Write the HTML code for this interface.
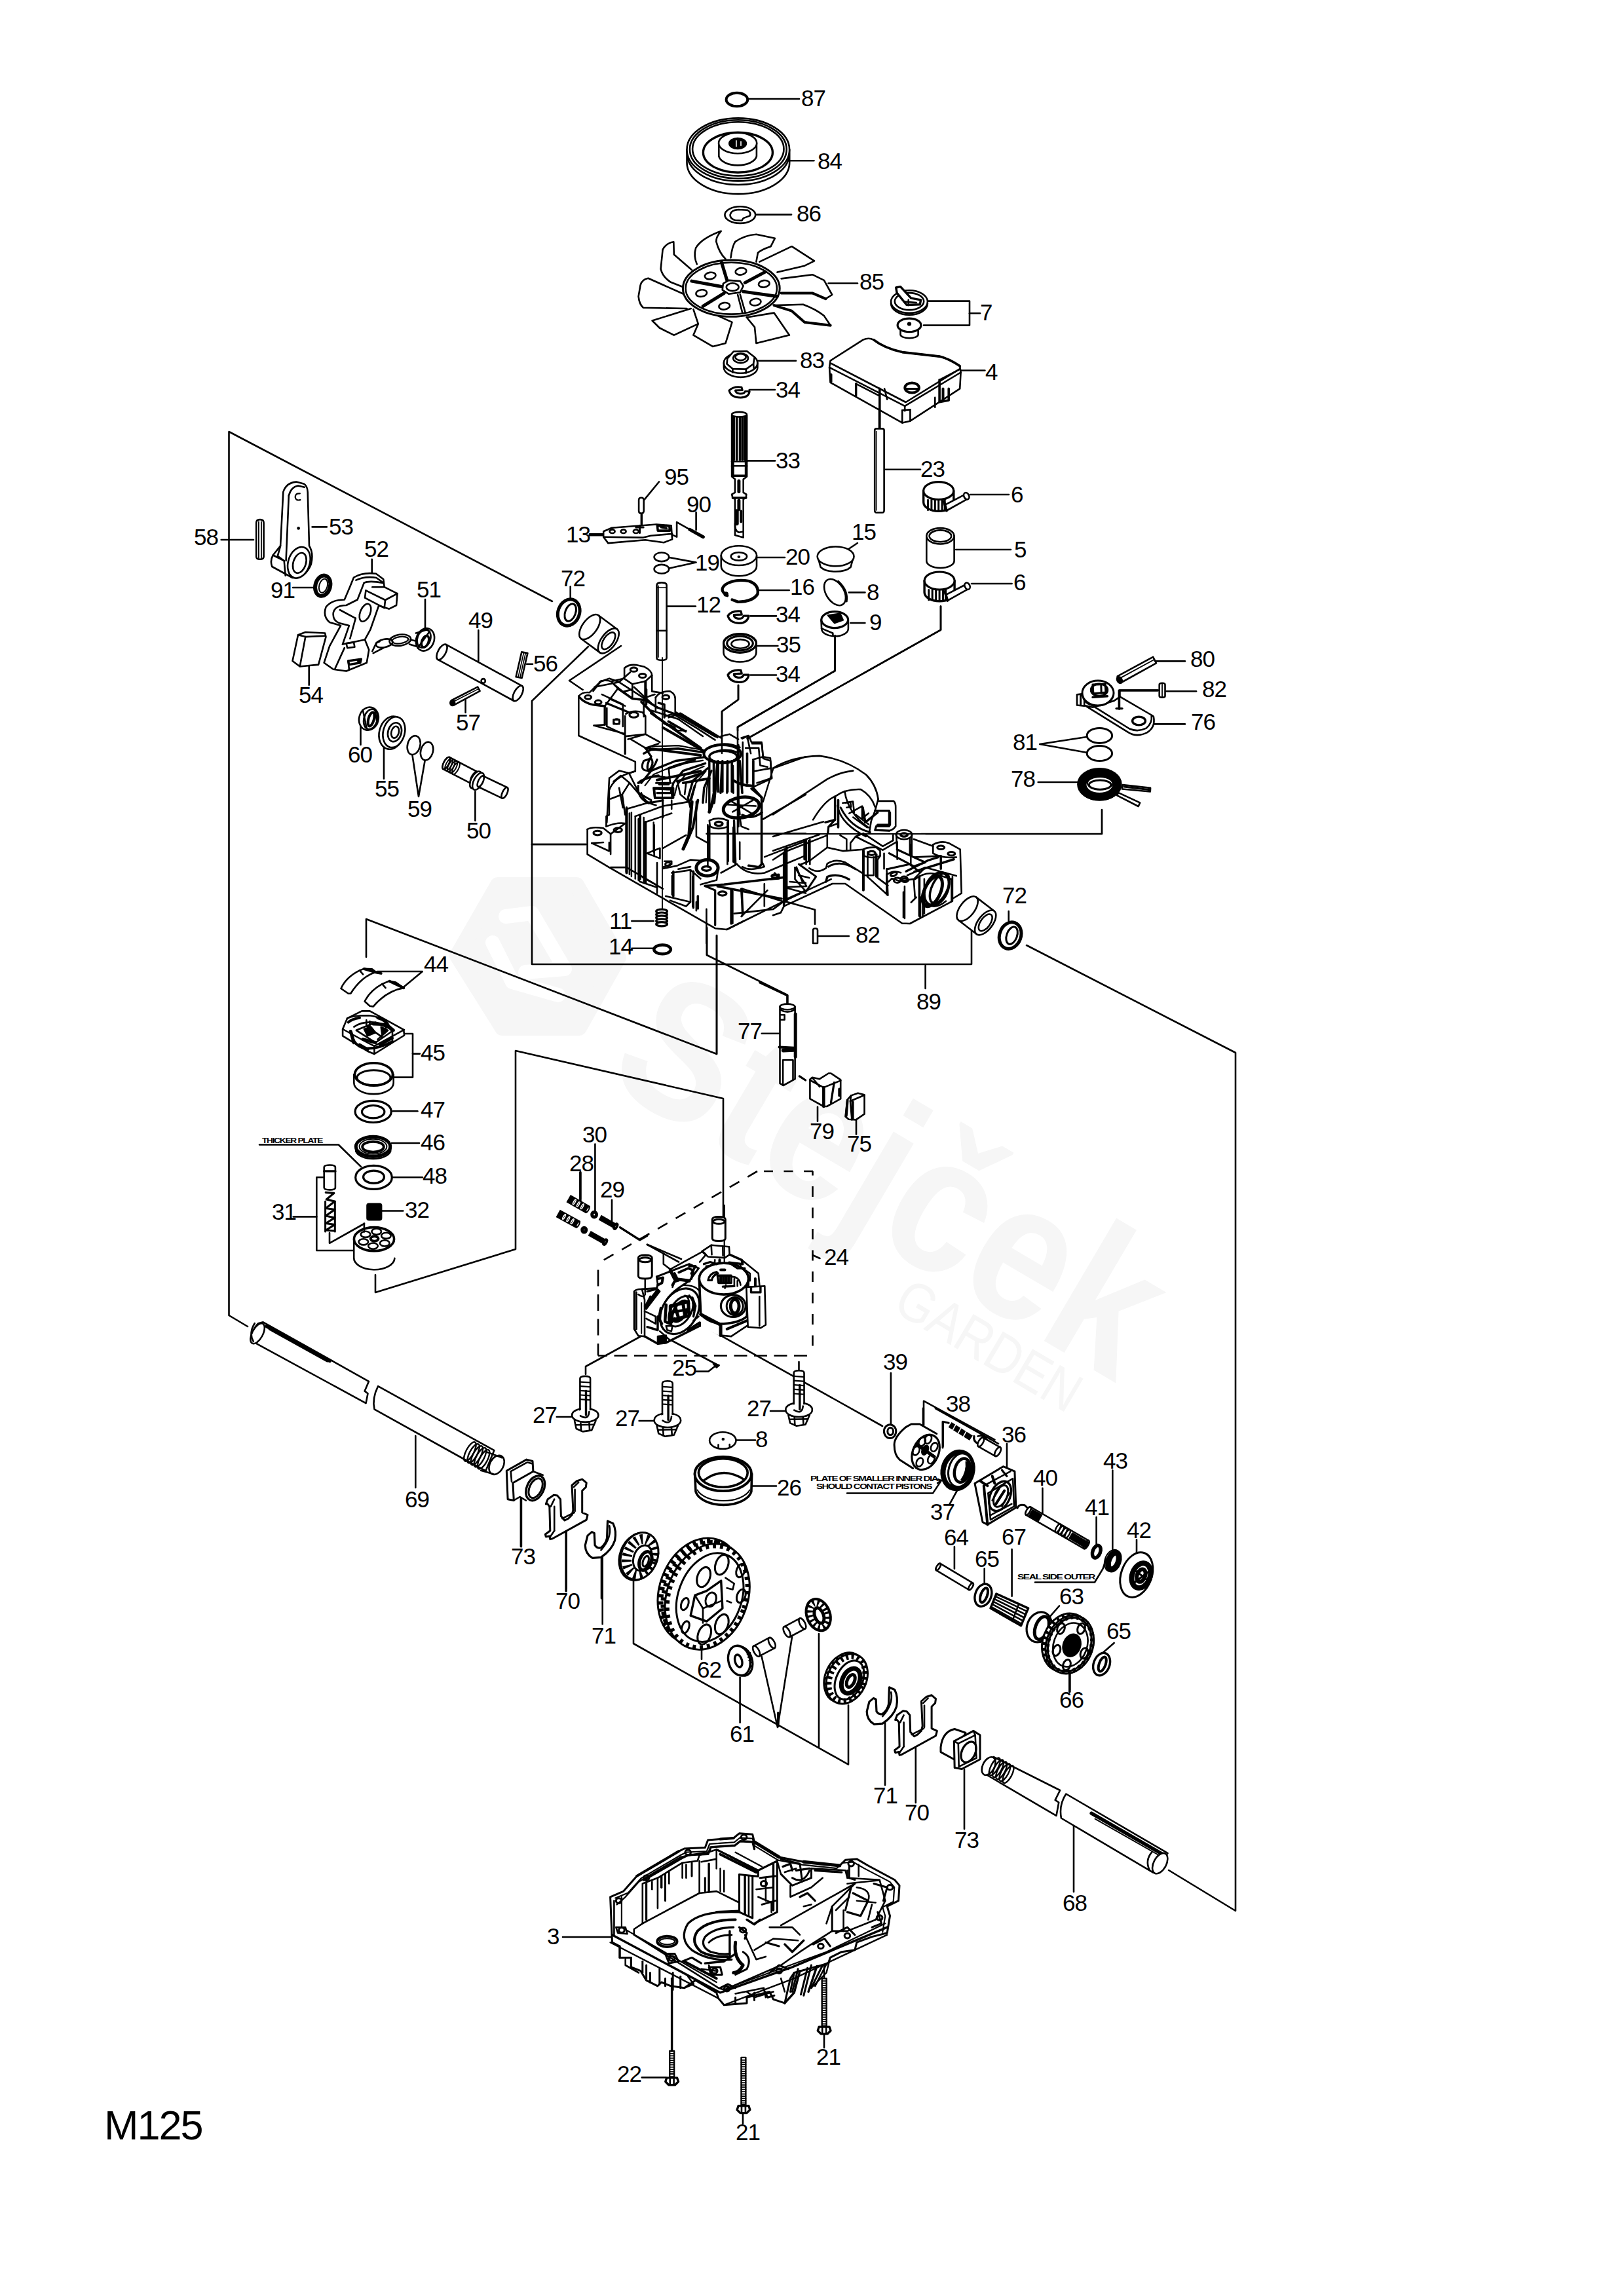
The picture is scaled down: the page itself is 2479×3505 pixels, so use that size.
<!DOCTYPE html>
<html><head><meta charset="utf-8"><title>M125</title>
<style>
html,body{margin:0;padding:0;background:#fff}
body{width:2479px;height:3505px;overflow:hidden}
svg{display:block}
svg *{vector-effect:none}
.d{fill:none;stroke:#000;stroke-width:2.6;stroke-linecap:round;stroke-linejoin:round}
.d text{fill:#000;stroke:none;font-family:"Liberation Sans",sans-serif;font-size:35px;letter-spacing:-1px}
</style></head><body>
<svg width="2479" height="3505" viewBox="0 0 2479 3505">
<rect width="2479" height="3505" fill="#fff"/>
<g class="d">
<g transform="translate(920,1650) rotate(30.5) scale(0.87,1)"><text x="0" y="0" style="font-size:300px;font-weight:bold;fill:#f6f6f6">Stejček</text><text x="640" y="78" style="font-size:85px;fill:#f6f6f6">GARDEN</text></g>
<g transform="translate(822,1459)"><path d="M-62 -108 L58 -108 L122 3 L62 110 L-55 110 L-124 0 Z" style="fill:#f6f6f6;stroke:#f6f6f6;stroke-width:24;stroke-linejoin:round"/><path d="M-50 -60 L-10 -65 L40 20 L-20 25 M-70 -20 L-40 40 L30 60" style="fill:none;stroke:#fff;stroke-width:22;stroke-linecap:round;stroke-linejoin:round"/></g>
<polyline points="843,918 349.5,659 349.5,2008 378,2025"/>
<polyline points="898,987 812,1070 812,1472 1483,1472 1483,1421"/>
<line x1="812" y1="1289" x2="895" y2="1289"/>
<polyline points="948,986 869,1039 891,1054"/>
<line x1="1412.6" y1="1474" x2="1412.6" y2="1509"/>
<polyline points="1567,1443 1886,1607 1886,2917 1784,2855"/>
<polyline points="559,1461 559,1403 1094,1609 1094,1428"/>
<polyline points="573,1946 573,1973 787,1907 787,1604 1104,1677 1104,1860"/>
<polyline points="1081,1273 1682,1273 1682,1236"/>
<polyline points="1079,1416 1079,1458 1202,1519 1202,1534"/>
<line x1="1011" y1="1004" x2="1011" y2="1386" stroke-width="1.8"/>
<polyline points="1127,1046 1127,1068 1102,1086 1102,1145"/>
<polyline points="1274.6,970 1274.6,1024 1126,1110 1126,1273"/>
<polyline points="1436,925.6 1436,961.6 1140.6,1127.6"/>
<line x1="1342" y1="592" x2="1342" y2="654"/>
<polyline points="980,2039 894,2086 894,2098"/>
<line x1="1072" y1="2023" x2="1347" y2="2177"/>
<line x1="1219.5" y1="2079" x2="1219.5" y2="2091"/>
<line x1="1017" y1="2042" x2="1096" y2="2084"/>
<polyline points="967,2413 967,2509 1295,2693.6 1295,2603"/>
<line x1="1250" y1="2494" x2="1250" y2="2667"/>
<polyline points="1162.6,2528.6 1187,2637 1209,2499"/>
<line x1="1129.6" y1="2560.6" x2="1129.6" y2="2629.6"/>
<line x1="1071" y1="2514" x2="1071" y2="2533"/>
<line x1="1141" y1="151" x2="1220" y2="151"/>
<line x1="1205.4" y1="245.3" x2="1242.4" y2="245.3"/>
<line x1="1153.7" y1="327.6" x2="1208" y2="327.6"/>
<line x1="1264.5" y1="432.5" x2="1309" y2="432.5"/>
<polyline points="1417,459.6 1480,459.6 1480,496.6 1410,496.6"/>
<line x1="1480" y1="478.3" x2="1496" y2="478.3"/>
<line x1="1151" y1="550.7" x2="1215" y2="550.7"/>
<line x1="1143.8" y1="595" x2="1183" y2="595"/>
<line x1="1139" y1="703.4" x2="1183" y2="703.4"/>
<line x1="1466.5" y1="565.5" x2="1503.4" y2="565.5"/>
<line x1="1349" y1="716.7" x2="1405" y2="716.7"/>
<line x1="1481" y1="755" x2="1540" y2="755"/>
<line x1="1459" y1="839" x2="1543" y2="839"/>
<line x1="1006" y1="735.5" x2="983.7" y2="762.6"/>
<line x1="1062.6" y1="782" x2="1062.6" y2="809"/>
<polyline points="1021.7,851 1062.6,858.6 1021.7,867.5"/>
<line x1="1156" y1="851" x2="1198" y2="851"/>
<line x1="1308.9" y1="829" x2="1294" y2="839"/>
<line x1="337.7" y1="824" x2="387" y2="824"/>
<line x1="476.6" y1="804.4" x2="498.8" y2="804.4"/>
<line x1="567.7" y1="853.7" x2="567.7" y2="875.9"/>
<line x1="447" y1="897" x2="479" y2="897"/>
<line x1="471.7" y1="1016" x2="471.7" y2="1045.8"/>
<line x1="649" y1="915" x2="649" y2="964.5"/>
<line x1="730.3" y1="962" x2="730.3" y2="1008.9"/>
<line x1="804" y1="1013.8" x2="813" y2="1013.8"/>
<line x1="710.6" y1="1065.5" x2="710.6" y2="1087.7"/>
<line x1="870.7" y1="895.6" x2="870.7" y2="912.8"/>
<line x1="550.5" y1="1107.4" x2="550.5" y2="1137"/>
<line x1="586" y1="1132" x2="586" y2="1188.7"/>
<polyline points="629.3,1151.7 639,1216 649,1159"/>
<line x1="725.4" y1="1208.4" x2="725.4" y2="1252.7"/>
<line x1="900" y1="815.3" x2="922.4" y2="815.3"/>
<line x1="1017.5" y1="925.6" x2="1061.8" y2="925.6"/>
<line x1="1157.9" y1="901" x2="1204.7" y2="901"/>
<line x1="1145.6" y1="940.4" x2="1185" y2="940.4"/>
<line x1="1153" y1="986" x2="1187.4" y2="986"/>
<line x1="1145.6" y1="1030.5" x2="1185" y2="1030.5"/>
<line x1="1295.8" y1="904.4" x2="1320.4" y2="904.4"/>
<line x1="1298.3" y1="951" x2="1320.4" y2="951"/>
<line x1="1483" y1="891" x2="1544.6" y2="891"/>
<line x1="964.3" y1="1406" x2="997.8" y2="1406"/>
<line x1="964.3" y1="1447.8" x2="996.8" y2="1447.8"/>
<line x1="1249" y1="1429" x2="1295.8" y2="1429"/>
<line x1="1539.7" y1="1391" x2="1539.7" y2="1406"/>
<line x1="1162.8" y1="1577.8" x2="1190" y2="1577.8"/>
<line x1="1764.5" y1="1009.4" x2="1808.9" y2="1009.4"/>
<line x1="1780.3" y1="1055.2" x2="1826" y2="1055.2"/>
<polyline points="1771.4,1053.7 1709.4,1053.7 1709.4,1083.3"/>
<line x1="1762" y1="1105.4" x2="1808.9" y2="1105.4"/>
<polyline points="1658.6,1125 1587.2,1136 1658.6,1148.8"/>
<line x1="1584.7" y1="1194" x2="1646.3" y2="1194"/>
<polyline points="575.9,1483 644.8,1483 615.3,1507.6"/>
<polyline points="615.3,1578 630,1578 630,1644.6 600.5,1644.6"/>
<line x1="630" y1="1608.6" x2="640.9" y2="1608.6"/>
<line x1="599.5" y1="1696.3" x2="637.4" y2="1696.3"/>
<line x1="598" y1="1745" x2="639.9" y2="1745"/>
<line x1="599.5" y1="1797.3" x2="644.8" y2="1797.3"/>
<line x1="581.8" y1="1848.5" x2="615.3" y2="1848.5"/>
<line x1="447.8" y1="1857.4" x2="483.3" y2="1857.4"/>
<polyline points="497,1797.3 483.3,1797.3 483.3,1909 538.9,1909"/>
<polyline points="503,1882 503,1897.8 556,1868"/>
<polyline points="396,1747.5 516.7,1747.5 551,1781"/>
<line x1="908.4" y1="1746.6" x2="908.4" y2="1850"/>
<line x1="886" y1="1791" x2="886" y2="1830"/>
<line x1="934" y1="1831.8" x2="934" y2="1867"/>
<line x1="1248" y1="1689.7" x2="1248" y2="1711.8"/>
<line x1="1307" y1="1707" x2="1307" y2="1731.5"/>
<line x1="1240.6" y1="1916" x2="1251.5" y2="1921"/>
<polyline points="1062.8,2093.6 1081.5,2093.6 1093.8,2083.7"/>
<line x1="975.6" y1="2169" x2="997.8" y2="2169"/>
<line x1="1176" y1="2154" x2="1198.8" y2="2154"/>
<line x1="849.8" y1="2163" x2="872" y2="2163"/>
<line x1="1123.4" y1="2198.5" x2="1153" y2="2198.5"/>
<line x1="1148" y1="2268.5" x2="1185" y2="2268.5"/>
<line x1="1359.9" y1="2096" x2="1359.9" y2="2175"/>
<line x1="1537" y1="2204" x2="1537" y2="2239"/>
<line x1="1591.4" y1="2271.7" x2="1591.4" y2="2311"/>
<polyline points="1410,2175.6 1410,2138.7 1518.5,2197.8"/>
<line x1="1439.7" y1="2207.6" x2="1439.7" y2="2170.7"/>
<line x1="1449.5" y1="2296.3" x2="1461.8" y2="2274"/>
<line x1="1698.3" y1="2244.6" x2="1698.3" y2="2370"/>
<line x1="1673.6" y1="2316" x2="1673.6" y2="2357.9"/>
<line x1="1735" y1="2350.5" x2="1735" y2="2370"/>
<line x1="1456.9" y1="2361" x2="1456.9" y2="2394.8"/>
<line x1="1502.7" y1="2394.8" x2="1502.7" y2="2419.5"/>
<line x1="1544.6" y1="2365" x2="1544.6" y2="2436.7"/>
<polyline points="1580,2415.5 1671,2415.5 1683.5,2394.8 1688.4,2380"/>
<line x1="1617" y1="2451.5" x2="1602" y2="2468.7"/>
<line x1="1633" y1="2550" x2="1633" y2="2579.6"/>
<line x1="1700.7" y1="2508" x2="1683.5" y2="2523"/>
<line x1="1351" y1="2626" x2="1351" y2="2725"/>
<line x1="1397.8" y1="2665.8" x2="1397.8" y2="2752"/>
<line x1="1472" y1="2701.6" x2="1472" y2="2792"/>
<line x1="1639" y1="2786.5" x2="1639" y2="2888"/>
<line x1="634.3" y1="2192" x2="634.3" y2="2271"/>
<line x1="795.6" y1="2289.7" x2="795.6" y2="2361"/>
<line x1="864.5" y1="2336.5" x2="864.5" y2="2425"/>
<line x1="919.7" y1="2375.9" x2="919.7" y2="2479.3"/>
<line x1="859" y1="2957" x2="933" y2="2957"/>
<line x1="979.8" y1="3171.4" x2="1016.7" y2="3171.4"/>
<line x1="1025.6" y1="3020" x2="1025.6" y2="3131"/>
<line x1="1258" y1="3104" x2="1258" y2="3126"/>
<line x1="1258" y1="3000.5" x2="1258" y2="3020"/>
<line x1="1134" y1="3224.6" x2="1134" y2="3241.9"/>
<polyline points="1199.8,1376.4 1244,1388.7 1244,1410.8"/>
<line x1="1156" y1="1788" x2="913" y2="1928.5" stroke-dasharray="17 14.7" stroke-dashoffset="0" stroke-linecap="butt"/>
<line x1="1241" y1="1788" x2="1156" y2="1788" stroke-dasharray="14 16.5" stroke-dashoffset="0" stroke-linecap="butt"/>
<line x1="1240.5" y1="1788" x2="1240.5" y2="2069.5" stroke-dasharray="16 16.5" stroke-dashoffset="9.5" stroke-linecap="butt"/>
<line x1="913" y1="2069.5" x2="1240.5" y2="2069.5" stroke-dasharray="20 10.5" stroke-dashoffset="6" stroke-linecap="butt"/>
<line x1="913" y1="1938.5" x2="913" y2="2069.5" stroke-dasharray="25 12.5" stroke-dashoffset="0" stroke-linecap="butt"/>
<ellipse cx="1124.9" cy="152" rx="16.3" ry="10.3" stroke-width="4"/>
<path d="M1048.5 228.4L1048.5 248.1A78.3 48 0 0 0 1205.2 248.1L1205.2 228.4" fill="#fff"/>
<path d="M1049.3 240.7A78.3 48 0 0 0 1204.4 240.7"/>
<ellipse cx="1126.8" cy="228.4" rx="78.3" ry="48" fill="#fff"/>
<ellipse cx="1126.8" cy="227.9" rx="73.9" ry="44.6"/>
<ellipse cx="1126.8" cy="227.4" rx="69.7" ry="41.1"/>
<ellipse cx="1126.4" cy="232.8" rx="53" ry="30.5" stroke-width="3.4"/>
<path d="M1097.3 218.5L1097.3 238.7A29.1 16 0 0 0 1154.9 238.7L1154.9 218.5" fill="#fff"/>
<ellipse cx="1126.1" cy="218.5" rx="29.1" ry="15.8" fill="#fff"/>
<ellipse cx="1126.1" cy="219" rx="12.8" ry="7.9" fill="#000"/>
<line x1="1123.9" y1="214.8" x2="1123.9" y2="223.4" stroke-width="1.6" stroke="#fff"/>
<line x1="1131" y1="216.1" x2="1131" y2="222.2" stroke-width="1.6" stroke="#fff"/>
<ellipse cx="1129.8" cy="328.1" rx="23.4" ry="12.8"/>
<path d="M1114.5 328.1Q1115.5 320.7 1127.3 320L1140.9 320.7Q1147 324.4 1144.6 329.4L1134.7 333.1L1132.3 336.7L1122.4 336.3Q1114.5 334.3 1114.5 328.1Z"/>
<path d="M1055.9 411.9L1028.8 388.5L1028.3 369.3Q1016.5 371.2 1011.6 381.1L1008.6 410.6Q1011.6 423 1023.9 430.8L1044.8 439" fill="#fff"/>
<path d="M1046.1 450L989.4 424.7Q979.6 426.7 977.6 435.3L974.6 452.5Q975.9 464.8 982 469.8L1048.5 471" fill="#fff"/>
<path d="M1054.7 471L995.6 489.5L1006.7 500.5L1028.8 511.6L1065.8 494.4L1058.4 472.2" fill="#fff"/>
<path d="M1091.6 480.1L1117.5 491.9L1107.6 523.9L1087.9 528.9L1058.4 511.6L1065.8 494.4" fill="#fff"/>
<path d="M1139.7 484.5L1181.5 477.6L1204.9 511.6L1154.4 523.9L1152 499.3L1139.7 484.5" fill="#fff"/>
<path d="M1181.5 466.1L1225.9 464.8Q1245.6 472.2 1257.9 482.1L1267.7 496.8L1228.3 491.9L1208.6 474.7L1181.5 466.1" fill="#fff"/>
<path d="M1192.6 425.4L1240.6 419.3L1257.9 427.9L1270.2 450L1260.3 456.2L1240.6 447.6L1192.6 447.6" fill="#fff"/>
<path d="M1159.4 399.6L1208.6 376.2L1243.1 398.3L1228.3 405.7L1186.5 415.6" fill="#fff"/>
<path d="M1115.5 393.4Q1117.5 376.2 1122.4 368.8Q1137.2 358.9 1154.4 357.7L1182.8 363.8L1176.6 376.2Q1161.8 381.1 1156.9 386L1154.4 399.6" fill="#fff"/>
<path d="M1063.8 403.3Q1058.4 390.9 1062.1 378.6Q1070.7 363.8 1100.7 352.8Q1092.9 361.4 1093.3 368.8Q1097.8 386 1107.6 395.4" fill="#fff"/>
<path d="M1192.6 447.6L1240.6 447.6L1260.3 456.2" stroke-width="4"/>
<path d="M1181.5 466.1L1208.6 474.7L1228.3 491.9L1267.7 496.8" stroke-width="4"/>
<ellipse cx="1116.3" cy="440.2" rx="73.9" ry="43.1" stroke-width="3" fill="#fff"/>
<ellipse cx="1116.3" cy="440.2" rx="69.7" ry="39.4"/>
<line x1="1055.9" y1="429.1" x2="1102.7" y2="437.7" stroke-width="5"/>
<line x1="1101.5" y1="400.8" x2="1110.1" y2="429.1" stroke-width="5"/>
<line x1="1137.2" y1="431.6" x2="1168" y2="415.1" stroke-width="5"/>
<line x1="1134.7" y1="445.1" x2="1186.5" y2="452.5" stroke-width="5"/>
<line x1="1073.2" y1="467.3" x2="1105.2" y2="447.6" stroke-width="5"/>
<line x1="1126.1" y1="450" x2="1133.5" y2="478.4"/>
<line x1="1129.8" y1="449.6" x2="1137.7" y2="477.1"/>
<path d="M1103.9 432.8L1112.6 427.9L1129.8 429.1L1134.7 436.5L1129.8 446.4L1112.6 448.8L1102.7 442.7Z" fill="#fff"/>
<ellipse cx="1118.2" cy="438.2" rx="9.4" ry="5.9"/>
<ellipse cx="1084.2" cy="421" rx="8.4" ry="5.2" transform="rotate(-8 1084.2 421)"/>
<ellipse cx="1131" cy="414.3" rx="8.4" ry="5.2" transform="rotate(-8 1131 414.3)"/>
<ellipse cx="1166.3" cy="433.3" rx="8.4" ry="5.2" transform="rotate(-8 1166.3 433.3)"/>
<ellipse cx="1153.2" cy="461.1" rx="8.4" ry="5.2" transform="rotate(-8 1153.2 461.1)"/>
<ellipse cx="1105.7" cy="467.3" rx="8.4" ry="5.2" transform="rotate(-8 1105.7 467.3)"/>
<ellipse cx="1070.7" cy="447.6" rx="8.4" ry="5.2" transform="rotate(-8 1070.7 447.6)"/>
<ellipse cx="1388" cy="463.3" rx="27.9" ry="17.3" fill="#fff"/>
<ellipse cx="1388" cy="460.6" rx="27.9" ry="17.3" fill="#fff"/>
<ellipse cx="1388" cy="460.1" rx="22.2" ry="13"/>
<path d="M1367.7 439L1374.5 437.6L1390.7 455.2L1405.6 457.9L1404.3 464.7L1384 465.5L1369.1 447.1Z" stroke-width="3.4" fill="#fff"/>
<line x1="1381.2" y1="460.6" x2="1398.9" y2="462"/>
<line x1="1386.7" y1="457.9" x2="1386.7" y2="466.1"/>
<path d="M1374.5 498.6L1374.5 510.8A13.5 5.4 0 0 0 1401.6 510.8L1401.6 498.6" fill="#fff"/>
<ellipse cx="1388" cy="496.4" rx="17.9" ry="10.3" stroke-width="3.2" fill="#fff"/>
<ellipse cx="1388" cy="494.5" rx="1.9" ry="1.6" fill="#000"/>
<path d="M1104.9 554.1L1104.9 560.9A25.7 14.9 0 0 0 1156.4 560.9L1156.4 554.1" fill="#fff"/>
<ellipse cx="1130.6" cy="554.1" rx="25.7" ry="15.7" fill="#fff"/>
<path d="M1110.3 547.3L1119.8 536.5L1140.1 536L1151.8 545.2L1150.1 555.5L1138.8 563.6L1118.4 563.1L1109.5 555.5Z" fill="#fff"/>
<ellipse cx="1130.6" cy="546.8" rx="11.4" ry="7.3"/>
<ellipse cx="1130.6" cy="545.2" rx="8.1" ry="4.9"/>
<line x1="1118.4" y1="563.1" x2="1118.4" y2="568.5"/>
<line x1="1138.8" y1="563.6" x2="1138.8" y2="569.6"/>
<line x1="1150.1" y1="555.5" x2="1150.7" y2="562.2"/>
<path d="M1132 591.2Q1119.8 589.3 1113 596.1Q1115.7 606.9 1130.6 606.9Q1142.8 606.9 1144.2 597.5L1137.4 597.5Q1136.1 601.5 1129.3 601Q1122.5 600.2 1122.5 596.1L1133.3 595.6Z" stroke-width="3" fill="#fff"/>
<path d="M1117.1 634L1117.1 727.5L1122 731.6L1122 751.9L1117.1 754.6L1118.4 760L1122 761.9L1122 816.9L1134.7 820.4L1134.7 761.9L1138.8 760L1139.3 754.6L1134.7 751.9L1134.7 731.6L1140.1 727.5L1140.1 634Z" fill="#fff"/>
<ellipse cx="1128.5" cy="632.7" rx="11.4" ry="3.8" fill="#fff"/>
<line x1="1120.3" y1="636.7" x2="1120.3" y2="701.8" stroke-width="3.6"/>
<line x1="1124.7" y1="636.7" x2="1124.7" y2="701.8" stroke-width="3.6"/>
<line x1="1129.6" y1="636.7" x2="1129.6" y2="701.8" stroke-width="3.6"/>
<line x1="1133.3" y1="636.7" x2="1133.3" y2="701.8" stroke-width="3.6"/>
<line x1="1137.1" y1="636.7" x2="1137.1" y2="701.8" stroke-width="3.6"/>
<line x1="1118.7" y1="636.7" x2="1118.7" y2="726.2" stroke-width="4"/>
<line x1="1138.8" y1="636.7" x2="1138.8" y2="726.2" stroke-width="4"/>
<line x1="1127.9" y1="734.3" x2="1127.9" y2="750.5" stroke-width="5"/>
<line x1="1127.9" y1="764.1" x2="1127.9" y2="777.6" stroke-width="5"/>
<line x1="1117.1" y1="704.5" x2="1140.1" y2="704.5"/>
<line x1="1117.1" y1="711.2" x2="1140.1" y2="711.2"/>
<line x1="1118.4" y1="726.2" x2="1138.8" y2="726.2" stroke-width="3.5"/>
<line x1="1118.4" y1="760" x2="1138.8" y2="760" stroke-width="3.5"/>
<line x1="1124.7" y1="780.3" x2="1124.7" y2="799.3" stroke-width="6"/>
<line x1="1131.2" y1="780.3" x2="1131.2" y2="796.6" stroke-width="4"/>
<path d="M1122 799.3Q1121.2 810.1 1127.9 812.8L1134.7 811.5"/>
<path d="M1267.5 550.6L1317.6 518.6Q1326.3 514.8 1333.8 518.9Q1350.1 531.6 1377.2 537.6L1434.1 544.1Q1447.6 547.3 1465.2 558.7L1466.6 568.5L1465.2 593.4L1389.4 642.7L1377.2 645.4L1267.5 583.9L1266.1 560.9Z" fill="#fff"/>
<path d="M1266.1 560.9L1381.2 619.9L1466.6 568.5"/>
<path d="M1268.8 554.9L1382.6 614L1465.2 563.1"/>
<path d="M1333.8 518.9Q1350.1 531.6 1377.2 537.6L1434.1 544.1Q1447.6 547.3 1465.2 558.7" stroke-width="3.6"/>
<line x1="1377.2" y1="626.4" x2="1377.2" y2="645.4"/>
<line x1="1389.4" y1="625.4" x2="1389.4" y2="642.7"/>
<line x1="1381.2" y1="619.9" x2="1381.2" y2="627.3"/>
<line x1="1377.2" y1="626.4" x2="1389.4" y2="625.4"/>
<line x1="1306.7" y1="585.8" x2="1306.7" y2="603.7" stroke-width="3.4"/>
<line x1="1268.8" y1="571.7" x2="1268.8" y2="582.6" stroke-width="3.4"/>
<line x1="1306.7" y1="585.8" x2="1342" y2="604.2"/>
<path d="M1434.1 579.8L1434.1 613.7L1448.2 611L1448.2 593.4" stroke-width="3.6"/>
<line x1="1439.5" y1="593.4" x2="1439.5" y2="609.7" stroke-width="4"/>
<line x1="1427.3" y1="606.9" x2="1427.3" y2="621.8"/>
<line x1="1434.1" y1="579.8" x2="1465.2" y2="563.6"/>
<ellipse cx="1392.1" cy="592" rx="10.8" ry="7.6" stroke-width="4"/>
<line x1="1382.6" y1="593.4" x2="1401.6" y2="593.4" stroke-width="3"/>
<line x1="1342.8" y1="593.4" x2="1342.8" y2="653.5" stroke-width="3.6"/>
<line x1="1350.1" y1="593.4" x2="1354.2" y2="609.7"/>
<path d="M1335.2 657.1Q1335.2 654.4 1337.9 654.4L1346.8 654.4Q1349.6 654.4 1349.6 657.1L1349.6 779Q1349.6 782.5 1346.8 782.5L1337.9 782.5Q1335.2 782.5 1335.2 779Z" fill="#fff"/>
<line x1="1337.6" y1="658.4" x2="1337.6" y2="779" stroke-width="1.5"/>
<path d="M1249.3 853.5L1252.6 865.7A25.7 12.2 0 0 0 1298.6 865.7L1301.9 853.5" fill="#fff"/>
<ellipse cx="1275.6" cy="849.4" rx="27.9" ry="14.9" fill="#fff"/>
<path d="M1100.8 848.1L1100.8 864.3A27.1 14.9 0 0 0 1155 864.3L1155 848.1" fill="#fff"/>
<ellipse cx="1127.9" cy="848.1" rx="27.1" ry="14.9" fill="#fff"/>
<ellipse cx="1127.9" cy="849.4" rx="12.2" ry="6.2"/>
<ellipse cx="1127.9" cy="850" rx="1.1" ry="0.8" fill="#000"/>
<path d="M1409.7 749.2L1409.7 766.8A23 13.5 0 0 0 1455.8 766.8L1455.8 749.2" stroke-width="3.4" fill="#fff"/>
<ellipse cx="1432.7" cy="749.2" rx="23" ry="13.5" stroke-width="3.2" fill="#fff"/>
<line x1="1416.5" y1="763.3" x2="1416.5" y2="778.4" stroke-width="3"/>
<line x1="1421.9" y1="763.3" x2="1421.9" y2="778.4" stroke-width="3"/>
<line x1="1427.3" y1="763.3" x2="1427.3" y2="778.4" stroke-width="3"/>
<line x1="1432.7" y1="763.3" x2="1432.7" y2="778.4" stroke-width="3"/>
<line x1="1438.1" y1="763.3" x2="1438.1" y2="778.4" stroke-width="3"/>
<line x1="1442.2" y1="763.3" x2="1442.2" y2="778.4" stroke-width="3"/>
<path d="M1442.2 770.9L1473.4 754.6L1477.4 761.4L1444.9 779.5Z" fill="#fff"/>
<ellipse cx="1475.3" cy="757.3" rx="3.8" ry="5.4" fill="#fff" transform="rotate(-25 1475.3 757.3)"/>
<line x1="1440.9" y1="765.4" x2="1444.9" y2="779.5" stroke-width="4"/>
<path d="M1411.1 886.5L1411.1 904.2A23 13.5 0 0 0 1457.1 904.2L1457.1 886.5" stroke-width="3.4" fill="#fff"/>
<ellipse cx="1434.1" cy="886.5" rx="23" ry="13.5" stroke-width="3.2" fill="#fff"/>
<line x1="1417.8" y1="900.6" x2="1417.8" y2="915.8" stroke-width="3"/>
<line x1="1423.2" y1="900.6" x2="1423.2" y2="915.8" stroke-width="3"/>
<line x1="1428.7" y1="900.6" x2="1428.7" y2="915.8" stroke-width="3"/>
<line x1="1434.1" y1="900.6" x2="1434.1" y2="915.8" stroke-width="3"/>
<line x1="1439.5" y1="900.6" x2="1439.5" y2="915.8" stroke-width="3"/>
<line x1="1443.6" y1="900.6" x2="1443.6" y2="915.8" stroke-width="3"/>
<path d="M1443.6 908.2L1474.7 892L1478.8 898.7L1446.3 916.9Z" fill="#fff"/>
<ellipse cx="1476.6" cy="894.7" rx="3.8" ry="5.4" fill="#fff" transform="rotate(-25 1476.6 894.7)"/>
<line x1="1442.2" y1="902.8" x2="1446.3" y2="916.9" stroke-width="4"/>
<path d="M1414.3 818.3L1414.3 856.2A21.1 10.8 0 0 0 1456.6 856.2L1456.6 818.3" fill="#fff"/>
<ellipse cx="1435.4" cy="818.3" rx="21.1" ry="12.2" fill="#fff"/>
<ellipse cx="1435.4" cy="818.3" rx="16.8" ry="8.9"/>
<path d="M975.1 763.1Q975.1 759.7 978.8 759.7Q982.7 759.7 982.7 763.1L982.7 780.3Q982.7 783.7 978.8 783.7Q975.1 783.7 975.1 780.3Z" fill="#fff"/>
<line x1="979.3" y1="784.6" x2="979.3" y2="805" stroke-width="3.4"/>
<line x1="900" y1="817.2" x2="921.2" y2="817.2"/>
<path d="M921.2 811.2L934 805.8L1002 800.5L1024.6 802.2L1026.1 823.4L1013.3 828.2L985 824.2L928.3 829.1L921.2 819.7Z" fill="#fff"/>
<path d="M921.2 819.7L982.2 820.6L993.5 817.7L1026.1 814.9"/>
<ellipse cx="934.6" cy="811.2" rx="4" ry="2.8"/>
<ellipse cx="951.6" cy="811.2" rx="4" ry="2.8"/>
<ellipse cx="970.8" cy="811.2" rx="4" ry="2.8"/>
<path d="M1003.4 802.7L1021.8 802.7L1022.4 810.1L1004.2 810.1Z" stroke-width="3.6"/>
<line x1="1009.1" y1="805" x2="1017.6" y2="806.4" stroke-width="3"/>
<line x1="970.8" y1="805" x2="982.2" y2="805" stroke-width="3"/>
<line x1="976.5" y1="802.2" x2="976.5" y2="813.5" stroke-width="3"/>
<path d="M1026.1 816.3L1033.1 819.7L1033.1 797.1L1053 808.4"/>
<line x1="1053" y1="808.4" x2="1073.4" y2="819.7" stroke-width="5"/>
<ellipse cx="1009.9" cy="850.3" rx="11.3" ry="6.8"/>
<ellipse cx="1009.9" cy="868.7" rx="11.3" ry="6.8"/>
<path d="M1002.5 893.4Q1002.5 889.4 1009.9 889.4Q1017.6 889.4 1017.6 893.4L1017.6 1004.7Q1017.6 1007.8 1009.9 1007.8Q1002.5 1007.8 1002.5 1004.7Z" fill="#fff"/>
<line x1="1005.1" y1="894.2" x2="1005.1" y2="1003.3" stroke-width="1.5"/>
<line x1="1002.5" y1="962.8" x2="1017.6" y2="962.8"/>
<line x1="1002.5" y1="897.1" x2="1017.6" y2="897.1" stroke-width="1.5"/>
<path d="M1110.2 909.2Q1096.9 901.3 1106.8 892.8Q1121 882.9 1143.6 887.1Q1159.2 892.8 1156.4 907Q1149.3 918.3 1126.6 918.9L1117.6 915.5" stroke-width="4.4"/>
<ellipse cx="1108.2" cy="907" rx="2.5" ry="2.5"/>
<path d="M1130.9 933Q1116.7 931.6 1111 940.1Q1113.9 950.6 1128 951.4Q1140.8 951.4 1143.1 940.1L1135.1 940.1Q1133.7 944.9 1126.6 944.4Q1119.5 942.9 1120.4 938.7L1132.3 938.1Z" stroke-width="3.2" fill="#fff"/>
<path d="M1130.9 1023.1Q1116.7 1021.7 1111 1030.2Q1113.9 1040.7 1128 1041.5Q1140.8 1041.5 1143.1 1030.2L1135.1 1030.2Q1133.7 1035 1126.6 1034.4Q1119.5 1033 1120.4 1028.8L1132.3 1028.2Z" stroke-width="3.2" fill="#fff"/>
<path d="M1104.5 982L1104.5 996.2A24.9 14.2 0 0 0 1154.4 996.2L1154.4 982" fill="#fff"/>
<ellipse cx="1129.5" cy="982" rx="24.9" ry="14.2" stroke-width="3.4" fill="#fff"/>
<ellipse cx="1129.5" cy="982" rx="19.8" ry="10.8" stroke-width="3.2"/>
<ellipse cx="1130" cy="982.9" rx="13.6" ry="6.8"/>
<ellipse cx="1274.5" cy="904.1" rx="13.6" ry="22.1" fill="#fff" transform="rotate(-32 1274.5 904.1)"/>
<path d="M1279.6 887.1Q1295.2 901.3 1292.4 918.3"/>
<path d="M1253.5 946.6L1254.1 959.4A20.4 11.9 0 0 0 1294.9 959.4L1294.9 946.6" fill="#fff"/>
<ellipse cx="1274.2" cy="946.1" rx="20.4" ry="12.5" stroke-width="3.2" fill="#fff"/>
<path d="M1264 939.5L1282.4 936.7L1286.7 946.6L1273.9 950.9Z" fill="#000"/>
<line x1="1254.1" y1="959.4" x2="1271.1" y2="966.5"/>
<line x1="1271.1" y1="966.5" x2="1271.7" y2="970.7"/>
<path d="M391.2 797.9Q391.2 793.1 396.9 793.1Q402.6 793.1 402.6 797.9L402.6 849.7Q402.6 853.7 396.9 853.7Q391.2 853.7 391.2 849.7Z" fill="#fff"/>
<line x1="394.9" y1="796.5" x2="394.9" y2="851.7" stroke-width="1.8"/>
<line x1="398.9" y1="796.5" x2="398.9" y2="851.7" stroke-width="1.8"/>
<path d="M432.3 751.2Q436.6 737 452.2 735.6L463.5 738.4Q469.2 741.2 469.7 751.2L472 833.3Q479.1 844.6 474.8 861.6Q466.3 882.9 446.5 882L415.3 865Q411.9 856 416.7 847.5L428.1 833.3Z" fill="#fff"/>
<path d="M440.8 756.8Q444.2 743.2 455 741.5L464.9 743.8"/>
<path d="M440.8 756.8L436.6 856"/>
<path d="M428.1 833.3L423.8 848.9L433.7 856"/>
<path d="M416.7 847.5L433.7 856L435.7 878.6"/>
<ellipse cx="456.4" cy="858.8" rx="16.4" ry="24.4" fill="#fff" transform="rotate(18 456.4 858.8)"/>
<ellipse cx="457.3" cy="859.4" rx="9.6" ry="15.9" transform="rotate(18 457.3 859.4)"/>
<path d="M457.8 753.4Q450.7 752.6 450.7 759.1Q451.6 764.8 458.4 763.1" stroke-width="2.2"/>
<ellipse cx="455.6" cy="806.4" rx="1.1" ry="1.1" fill="#000"/>
<ellipse cx="492.7" cy="894.2" rx="11.3" ry="15.9" stroke-width="6" fill="#fff" transform="rotate(15 492.7 894.2)"/>
<ellipse cx="493.5" cy="894.2" rx="6.2" ry="10.8" stroke-width="2" transform="rotate(15 493.5 894.2)"/>
<path d="M540 881.5Q554.1 873 574 875.8L585.3 884.3L586.7 896.2L606.5 906.1L605.1 924L593.8 929.6L578.2 924.5L565.5 960.8L557 976.4L563.2 992L559.8 1011.8L528.6 1024.5L508.8 1021.7L494.6 1011.8L503.1 986.3L520.1 955.1L503.1 950Q492.4 941 497.5 926.8Q506 915.5 525.8 915.5L534.3 895.6Z" fill="#fff"/>
<path d="M543.4 885.7Q557 879.2 574.5 882L583.9 888.8"/>
<path d="M555.6 890Q562.6 885.7 585.3 890"/>
<path d="M555.6 890L545.6 915.5L528.6 924Q511.6 924 508.8 935.3Q507.4 946.6 517.3 950.9L532.9 955.1L523 983.5"/>
<path d="M558.4 901.3L588.1 916L606.5 906.1"/>
<path d="M558.4 901.3L557 912.6L586.7 928.2L588.1 916"/>
<line x1="568.3" y1="896.2" x2="586.7" y2="896.2"/>
<ellipse cx="557.5" cy="935.3" rx="7.6" ry="14.2" transform="rotate(22 557.5 935.3)"/>
<line x1="518.7" y1="931" x2="542.8" y2="943.8"/>
<line x1="542.8" y1="943.8" x2="534.3" y2="975"/>
<path d="M528.6 982L540 980.6L541.4 987.7L530.1 989.1Z"/>
<path d="M525.8 989.1L511.6 1020.3"/>
<path d="M523 983.5L557 976.4"/>
<path d="M531.5 1009L551.3 1006.1L549.9 1011.8L532.9 1014.6Z" stroke-width="3.4"/>
<line x1="531.5" y1="1009" x2="532.9" y2="1021.7"/>
<ellipse cx="548.5" cy="1008.4" rx="2.3" ry="1.7" fill="#000"/>
<path d="M455 969.3L466.3 965L496.1 966.5L497.5 972.1L486.1 1014.6L457.8 1017.5L446.5 1009Z" fill="#fff"/>
<path d="M496.1 970.7L466.3 972.1L457.8 1016.9"/>
<line x1="466.3" y1="972.1" x2="455" y2="969.3"/>
<ellipse cx="610.8" cy="977.2" rx="16.4" ry="8.5" stroke-width="2.6" transform="rotate(-8 610.8 977.2)"/>
<ellipse cx="610.8" cy="977.2" rx="12.5" ry="5.1" stroke-width="2.2" transform="rotate(-8 610.8 977.2)"/>
<ellipse cx="586.7" cy="982" rx="13" ry="6.2" stroke-width="2.6" transform="rotate(-12 586.7 982)"/>
<path d="M568.3 994.2L574.5 981.2L579.6 979.2"/>
<path d="M569.7 997.1L585.3 989.1"/>
<path d="M626.4 976.4L637.7 979.2"/>
<path d="M625 983.5L639.1 987.7"/>
<ellipse cx="649" cy="976.4" rx="13.6" ry="17.6" fill="#fff" transform="rotate(20 649 976.4)"/>
<ellipse cx="647.1" cy="975" rx="9.9" ry="14.2" transform="rotate(20 647.1 975)"/>
<ellipse cx="649" cy="979.2" rx="5.1" ry="9.1" stroke-width="3.4" transform="rotate(20 649 979.2)"/>
<line x1="634.9" y1="966.5" x2="653.3" y2="960.8"/>
<line x1="637.7" y1="989.1" x2="656.1" y2="963.6"/>
<polygon points="668.3,1006.8 784.5,1070 796.9,1047.1 680.8,983.9" stroke="none" fill="#fff"/>
<ellipse cx="674.5" cy="995.4" rx="5.9" ry="13" fill="#fff" transform="rotate(28.5 674.5 995.4)"/>
<line x1="668.3" y1="1006.8" x2="784.5" y2="1070"/>
<line x1="680.8" y1="983.9" x2="796.9" y2="1047.1"/>
<ellipse cx="790.7" cy="1058.5" rx="5.9" ry="13" fill="#fff" transform="rotate(28.5 790.7 1058.5)"/>
<ellipse cx="737.7" cy="1039.5" rx="3.1" ry="3.4" fill="#fff"/>
<path d="M796.3 995.4L805.4 997.1L796.6 1035L787.6 1033.3Z" fill="#fff"/>
<line x1="799.5" y1="996.2" x2="791" y2="1033.9" stroke-width="1.6"/>
<line x1="802.3" y1="996.8" x2="793.8" y2="1034.4" stroke-width="1.6"/>
<path d="M689.5 1069L729.2 1048.6L732.6 1054.8L692.9 1076.4Z" fill="#fff"/>
<line x1="691" y1="1071.8" x2="730.9" y2="1051.4" stroke-width="1.6"/>
<ellipse cx="690.7" cy="1073" rx="3.4" ry="4" fill="#000"/>
<ellipse cx="562.9" cy="1097.1" rx="14.7" ry="17.8" fill="#fff" transform="rotate(15 562.9 1097.1)"/>
<ellipse cx="565.7" cy="1097.9" rx="10.2" ry="15.6" transform="rotate(15 565.7 1097.9)"/>
<ellipse cx="566.6" cy="1097.9" rx="4.2" ry="10.8" stroke-width="4" transform="rotate(15 566.6 1097.9)"/>
<line x1="553.8" y1="1083.7" x2="559.5" y2="1110.7"/>
<line x1="572.2" y1="1082.9" x2="575.9" y2="1105"/>
<ellipse cx="597.7" cy="1118.6" rx="18.7" ry="25.5" fill="#fff" transform="rotate(15 597.7 1118.6)"/>
<ellipse cx="601.4" cy="1117.7" rx="16.4" ry="23.8" fill="#fff" transform="rotate(15 601.4 1117.7)"/>
<ellipse cx="602.5" cy="1117.7" rx="10.2" ry="14.7" transform="rotate(15 602.5 1117.7)"/>
<ellipse cx="603.1" cy="1117.7" rx="5.7" ry="9.1" transform="rotate(15 603.1 1117.7)"/>
<ellipse cx="631.7" cy="1137.6" rx="9.6" ry="14.7" fill="#fff" transform="rotate(15 631.7 1137.6)"/>
<ellipse cx="651.6" cy="1146.6" rx="9.3" ry="14.2" fill="#fff" transform="rotate(15 651.6 1146.6)"/>
<polygon points="676.6,1174.1 719.1,1196.2 728.5,1178.1 686,1156" stroke="none" fill="#fff"/>
<ellipse cx="681.3" cy="1165" rx="4.1" ry="10.2" fill="#fff" transform="rotate(27.5 681.3 1165)"/>
<line x1="676.6" y1="1174.1" x2="719.1" y2="1196.2"/>
<line x1="686" y1="1156" x2="728.5" y2="1178.1"/>
<ellipse cx="723.8" cy="1187.1" rx="4.1" ry="10.2" fill="#fff" transform="rotate(27.5 723.8 1187.1)"/>
<ellipse cx="681.3" cy="1165" rx="4" ry="10.2" stroke-width="2" transform="rotate(27.5 681.3 1165)"/>
<ellipse cx="685" cy="1167" rx="4" ry="10.2" stroke-width="2" transform="rotate(27.5 685 1167)"/>
<ellipse cx="688.7" cy="1168.9" rx="4" ry="10.2" stroke-width="2" transform="rotate(27.5 688.7 1168.9)"/>
<ellipse cx="692.4" cy="1170.8" rx="4" ry="10.2" stroke-width="2" transform="rotate(27.5 692.4 1170.8)"/>
<ellipse cx="696" cy="1172.7" rx="4" ry="10.2" stroke-width="2" transform="rotate(27.5 696 1172.7)"/>
<ellipse cx="726.1" cy="1190.5" rx="6.8" ry="14.2" fill="#fff" transform="rotate(27.5 726.1 1190.5)"/>
<ellipse cx="730" cy="1192.8" rx="6.8" ry="14.2" fill="#fff" transform="rotate(27.5 730 1192.8)"/>
<polygon points="729.8,1201 766.6,1218.6 774.4,1202.2 737.6,1184.6" stroke="none" fill="#fff"/>
<ellipse cx="733.7" cy="1192.8" rx="3.6" ry="9.1" fill="#fff" transform="rotate(25.5 733.7 1192.8)"/>
<line x1="729.8" y1="1201" x2="766.6" y2="1218.6"/>
<line x1="737.6" y1="1184.6" x2="774.4" y2="1202.2"/>
<ellipse cx="770.5" cy="1210.4" rx="3.6" ry="9.1" fill="#fff" transform="rotate(25.5 770.5 1210.4)"/>
<ellipse cx="868.2" cy="935" rx="16.3" ry="20.7" stroke-width="5" fill="#fff" transform="rotate(20 868.2 935)"/>
<ellipse cx="870.7" cy="935" rx="7.9" ry="13.8" stroke-width="3" transform="rotate(20 870.7 935)"/>
<polygon points="887,975 915.6,996.1 942,960.5 913.4,939.3" stroke="none" fill="#fff"/>
<ellipse cx="900.2" cy="957.1" rx="11.1" ry="22.2" fill="#fff" transform="rotate(36.6 900.2 957.1)"/>
<line x1="887" y1="975" x2="915.6" y2="996.1"/>
<line x1="913.4" y1="939.3" x2="942" y2="960.5"/>
<ellipse cx="928.8" cy="978.3" rx="11.1" ry="22.2" fill="#fff" transform="rotate(36.6 928.8 978.3)"/>
<ellipse cx="928.8" cy="978.3" rx="7.4" ry="14.8" transform="rotate(35 928.8 978.3)"/>
<path d="M1705.7 1032.4L1760.1 1002.8L1764.9 1012.4L1710.5 1042.5Z" fill="#fff"/>
<line x1="1707.7" y1="1036.4" x2="1762.2" y2="1006.7" stroke-width="1.8"/>
<ellipse cx="1708.9" cy="1038" rx="3.5" ry="5.1" fill="#000" transform="rotate(-28 1708.9 1038)"/>
<path d="M1656.8 1077.3L1722.5 1118.1Q1735.3 1126.1 1751.3 1118.1Q1764.1 1110.1 1760.9 1094.1L1759.3 1092.5L1709.7 1063.6L1700.1 1070.1L1668 1079.7Z" fill="#fff"/>
<path d="M1661.6 1073.3L1724.1 1112.5Q1736.9 1118.1 1749.7 1111.7Q1759.3 1103.7 1757.7 1092.5"/>
<ellipse cx="1738.5" cy="1100.5" rx="9.9" ry="6.4" stroke-width="3.4"/>
<path d="M1644 1060.4L1644 1076.5L1655.2 1077.7L1655.2 1058.8Z" fill="#fff"/>
<line x1="1649.6" y1="1060.4" x2="1649.6" y2="1076.5" stroke-width="3"/>
<ellipse cx="1676" cy="1058" rx="24" ry="18.9" stroke-width="3" fill="#fff"/>
<path d="M1653.6 1065.2Q1656.8 1077.3 1676 1077.3Q1693.6 1076.5 1699.3 1062"/>
<ellipse cx="1678" cy="1053.2" rx="12.5" ry="9.3" stroke-width="3.4"/>
<path d="M1668 1045.2L1687.2 1044.4L1688 1057.2L1668.8 1058.8Z" stroke-width="3.2"/>
<line x1="1680.8" y1="1045.2" x2="1681.2" y2="1058" stroke-width="3"/>
<line x1="1668" y1="1064.4" x2="1690.4" y2="1062.8" stroke-width="3.4"/>
<path d="M1769.7 1045.2Q1769.7 1042.8 1774 1042.8Q1778.5 1042.8 1778.5 1045.2L1778.5 1062.4Q1778.5 1064.6 1774 1064.6Q1769.7 1064.6 1769.7 1062.4Z" fill="#fff"/>
<line x1="1774" y1="1043.6" x2="1774" y2="1063.6" stroke-width="1.8"/>
<path d="M1767.3 1054L1708.4 1054L1708.4 1082.1" stroke-width="3.6"/>
<line x1="1704.1" y1="1081.6" x2="1712.9" y2="1081.6" stroke-width="3.4"/>
<ellipse cx="1678.4" cy="1122.9" rx="19.2" ry="11.5" stroke-width="3" fill="#fff"/>
<ellipse cx="1678.4" cy="1150.1" rx="19.2" ry="11.5" stroke-width="3" fill="#fff"/>
<path d="M1713.7 1198.1L1756.1 1202.9L1755.8 1208.5L1712.9 1204.5Z" fill="#fff"/>
<line x1="1716.1" y1="1201" x2="1755.3" y2="1205.8" stroke-width="3"/>
<path d="M1707.3 1210.1L1740.1 1225.4L1737.7 1231L1704.9 1214.1Z" fill="#fff"/>
<ellipse cx="1678.4" cy="1198.1" rx="28.8" ry="20" stroke-width="9"/>
<ellipse cx="1678.4" cy="1198.1" rx="22.4" ry="14.4" stroke-width="5"/>
<ellipse cx="1678.4" cy="1197.3" rx="32.8" ry="23.7" stroke-width="3"/>
<ellipse cx="1679.2" cy="1198.1" rx="16.8" ry="7.2" stroke-width="3"/>
<ellipse cx="1679.2" cy="1195.7" rx="19.2" ry="9.6" stroke-width="2"/>
<path d="M520.5 1509Q528.3 1491.7 549 1481.4L555.9 1478.8L567.9 1479.3L574 1484Q552.4 1490 535.2 1516.7L531.7 1516.7Z" fill="#fff"/>
<path d="M555.9 1479L574.5 1484.5L581.7 1485.9" stroke-width="4"/>
<line x1="549" y1="1481.4" x2="554.1" y2="1487.4"/>
<path d="M556.7 1528.8Q564.5 1512.4 583.4 1502.1L593.8 1497.8L604.1 1499.5L616.2 1508.1Q590.3 1512.4 569.7 1536.6L564.5 1535.7Z" fill="#fff"/>
<path d="M594.7 1497.9L616.2 1508.1" stroke-width="4"/>
<line x1="583.4" y1="1502.1" x2="588.6" y2="1508.1"/>
<path d="M523.1 1571L530 1554.7L552.4 1543.4L564.5 1543.4L616.2 1571.9L617.1 1580.5L571.4 1609L561 1604.7L523.1 1581.4Z" fill="#fff"/>
<path d="M523.1 1571L561 1591.7L571.4 1596.9L617.1 1571.9" stroke-width="2.4"/>
<line x1="571.4" y1="1596.9" x2="571.4" y2="1609"/>
<path d="M530 1554.7Q536.9 1550.3 562.8 1550.3Q583.4 1552.1 590.3 1564.1Q590.3 1571 583.4 1574.5"/>
<path d="M540.3 1567.6Q552.4 1559 573.1 1560.7Q593.8 1564.1 599 1576.2L599 1590"/>
<path d="M536.9 1577.9Q538.6 1595.2 555.9 1600.3Q576.6 1602.1 599 1590" stroke-width="4"/>
<path d="M559.3 1557.2L559.3 1565.9L564.5 1567.6L564.5 1559"/>
<path d="M569.7 1563.3L590.3 1564.1L600.7 1572.8" stroke-width="4.5"/>
<path d="M543.8 1572.8L573.1 1560.7L600.7 1572.8L573.1 1591.7Z"/>
<line x1="561" y1="1567.6" x2="583.4" y2="1583.1"/>
<line x1="554.1" y1="1586.6" x2="573.1" y2="1591.7" stroke-width="5"/>
<line x1="535.2" y1="1574.5" x2="540.3" y2="1591.7" stroke-width="5"/>
<line x1="590.3" y1="1574.5" x2="576.6" y2="1586.6"/>
<path d="M531.7 1560.7Q536.9 1555.5 549 1553.8" stroke-width="4"/>
<path d="M576.6 1553.8Q590.3 1557.2 593.8 1567.6" stroke-width="4.5"/>
<path d="M549 1595.2L561 1602.1" stroke-width="5"/>
<path d="M580 1595.2L599 1584.8" stroke-width="4"/>
<path d="M555.9 1571L561 1581.4L573.1 1576.2L566.2 1567.6Z" fill="#000"/>
<path d="M581.7 1567.6L592.1 1572.8L583.4 1579.7Z" fill="#000"/>
<path d="M540.3 1640L540.3 1652.9A30.2 17.2 0 0 0 600.7 1652.9L600.7 1640" fill="#fff"/>
<ellipse cx="570.5" cy="1640" rx="29" ry="17.2" stroke-width="3.6" fill="#fff"/>
<ellipse cx="570.5" cy="1645.2" rx="25.5" ry="11.4" stroke-width="3"/>
<ellipse cx="569.7" cy="1696.9" rx="27.6" ry="16.6" stroke-width="3.2" fill="#fff"/>
<ellipse cx="569.7" cy="1697.2" rx="17.2" ry="9.7" stroke-width="3.2"/>
<text x="400" y="1744.5" style="font-size:11px;font-weight:bold" textLength="92" lengthAdjust="spacingAndGlyphs">THICKER PLATE</text>
<path d="M542.9 1750.3L543.3 1757.6A27.2 15.1 0 0 0 596.1 1757.6L596.7 1750.3" fill="#fff"/>
<ellipse cx="569.5" cy="1750.3" rx="26.2" ry="15.1" stroke-width="5" fill="#fff"/>
<ellipse cx="569.5" cy="1750.7" rx="16.3" ry="8" stroke-width="4"/>
<ellipse cx="569.5" cy="1750.3" rx="20.9" ry="11.5" stroke-width="2"/>
<ellipse cx="570.5" cy="1797.4" rx="27.8" ry="18" stroke-width="3.2" fill="#fff"/>
<ellipse cx="570.5" cy="1796.7" rx="15.9" ry="9.6" stroke-width="3.4"/>
<path d="M494.7 1782.1Q494.7 1778.5 503.5 1778.5Q511.9 1778.5 511.9 1782.1L511.9 1813.1Q511.9 1816.4 503.5 1816.4Q494.7 1816.4 494.7 1813.1Z" fill="#fff"/>
<line x1="494.7" y1="1787.9" x2="511.9" y2="1787.9" stroke-width="3.4"/>
<path d="M497.3 1820.4L509.8 1821.4L498.3 1830.9L510.9 1834L497.3 1844.5L510.9 1846.6L497.3 1856L510.9 1859.1L497.3 1867.5L510.9 1869.6L497.3 1878L509.8 1879" stroke-width="3.2"/>
<line x1="496.6" y1="1834" x2="496.6" y2="1880.1" stroke-width="3"/>
<line x1="511.3" y1="1834" x2="511.3" y2="1880.1" stroke-width="3"/>
<path d="M560.5 1840.3Q560.5 1837.8 563.2 1837.8L579.3 1837.8Q582.1 1837.8 582.1 1840.3L582.1 1859.5Q582.1 1862.3 579.3 1862.3L563.2 1862.3Q560.5 1862.3 560.5 1859.5Z" fill="#000"/>
<path d="M540.2 1891.6L540.2 1919.8A31 17.8 0 0 0 602.4 1920.9" fill="none"/>
<ellipse cx="571" cy="1891.6" rx="30.6" ry="18" stroke-width="3.6" fill="#fff"/>
<ellipse cx="558" cy="1884.3" rx="7.3" ry="4.6" stroke-width="2.6"/>
<ellipse cx="574.7" cy="1880.1" rx="7.3" ry="4.6" stroke-width="2.6"/>
<ellipse cx="589.4" cy="1886.3" rx="7.3" ry="4.6" stroke-width="2.6"/>
<ellipse cx="587.3" cy="1897.9" rx="7.3" ry="4.6" stroke-width="2.6"/>
<ellipse cx="569.5" cy="1902.1" rx="7.3" ry="4.6" stroke-width="2.6"/>
<ellipse cx="554.8" cy="1895.8" rx="7.3" ry="4.6" stroke-width="2.6"/>
<ellipse cx="571.6" cy="1891" rx="5.9" ry="3.8" stroke-width="4"/>
<line x1="555.9" y1="1867.5" x2="555.9" y2="1880.5"/>
<path d="M968 1971.3L1002.4 1948.9L1052.1 1929.7L1072.9 1910.4L1085.7 1900.8L1112.9 1903.2L1132.1 1923.3L1157.7 1944.1L1167.3 1963.3L1168.9 2022.5L1160.9 2027.3L1140.1 2024.1L1100.1 2040.1L1068.1 2024.1L1016.8 2049.7L1004 2051.3L974.4 2039.3L968 2028.9Z" stroke="none" fill="#fff"/>
<path d="M1087.3 1861.6Q1087.3 1857.6 1097.2 1857.6Q1107.3 1857.6 1107.3 1861.6L1107.3 1890.4Q1107.3 1894.4 1097.2 1894.4Q1087.3 1894.4 1087.3 1890.4Z" stroke-width="3" fill="#fff"/>
<ellipse cx="1097.3" cy="1864.8" rx="8.7" ry="3.5" stroke-width="3"/>
<path d="M974.4 1920.1Q974.4 1916 984.8 1916Q995.2 1916 995.2 1920.1L995.2 1948.1Q995.2 1952.1 984.8 1952.1Q974.4 1952.1 974.4 1948.1Z" stroke-width="3" fill="#fff"/>
<ellipse cx="984.8" cy="1923.3" rx="9.1" ry="3.5" stroke-width="3"/>
<line x1="1105.7" y1="1840" x2="1105.7" y2="1857.6"/>
<line x1="984.8" y1="1952.9" x2="984.8" y2="1976.1"/>
<line x1="1105.7" y1="1894.4" x2="1105.7" y2="1942.5" stroke-width="2.2"/>
<path d="M1071.3 1910.4L1085.7 1900.8L1112.9 1903.2L1113.7 1915.2L1106.5 1920.1L1080.9 1918.5Z"/>
<line x1="1085.7" y1="1900.8" x2="1086.5" y2="1915.2"/>
<line x1="1103.3" y1="1902.4" x2="1103.6" y2="1916.8"/>
<path d="M1068.1 1926.5L1077.7 1915.2L1072.9 1910.4"/>
<path d="M1077.7 1932.9L1090.5 1932.1L1091.3 1923.3"/>
<line x1="1098.5" y1="1923.3" x2="1098.5" y2="1932.9" stroke-width="4"/>
<path d="M1113.7 1915.2L1132.1 1923.3L1133.7 1929.7L1112.9 1927.3" stroke-width="3.6"/>
<path d="M1119.3 1929.7Q1120.9 1939.3 1130.5 1940.9L1130.5 1929.7"/>
<path d="M1132.1 1923.3L1157.7 1944.1L1159.3 1961.7"/>
<path d="M1133.7 1936.1L1144.9 1944.1L1144.9 1955.3"/>
<line x1="1152.9" y1="1952.1" x2="1152.9" y2="1963.3" stroke-width="4"/>
<path d="M1067.3 1952.1L1069.7 2006.5Q1084.1 2020.9 1104.9 2020.9Q1128.9 2019.3 1140.1 2009.7L1142.5 1952.1" stroke-width="3.6" fill="#fff"/>
<ellipse cx="1104.9" cy="1952.1" rx="37.6" ry="24" stroke-width="3.6" fill="#fff"/>
<path d="M1080.9 1954.5Q1082.5 1944.1 1093.7 1941.7L1096.1 1944.1Q1087.3 1947.3 1086.5 1954.5Z" stroke-width="3.2"/>
<path d="M1095.3 1947.3L1116.1 1947.3L1116.1 1958.5L1096.9 1958.5Z" stroke-width="3.4"/>
<line x1="1100.1" y1="1948.1" x2="1100.1" y2="1957.7" stroke-width="4"/>
<line x1="1104.1" y1="1948.1" x2="1104.1" y2="1957.7" stroke-width="4"/>
<line x1="1108.1" y1="1948.1" x2="1108.1" y2="1957.7" stroke-width="4"/>
<line x1="1112.1" y1="1948.1" x2="1112.1" y2="1957.7" stroke-width="4"/>
<line x1="1100.1" y1="1938.5" x2="1106.5" y2="1938.5" stroke-width="4"/>
<path d="M1116.1 1948.9Q1128.9 1948.9 1130.5 1961.7"/>
<line x1="1120.9" y1="1952.1" x2="1120.9" y2="1963.3"/>
<line x1="1125.7" y1="1955.3" x2="1125.7" y2="1963.3"/>
<path d="M1103.3 1964.1L1120.9 1963.3" stroke-width="3.2"/>
<path d="M1106.5 1966.5L1108.1 1961.7"/>
<ellipse cx="1119.3" cy="1993.7" rx="18.9" ry="16.8" stroke-width="3.2"/>
<ellipse cx="1121.7" cy="1994" rx="12.5" ry="13.6" stroke-width="3"/>
<ellipse cx="1121.7" cy="1994" rx="6.4" ry="10.6" stroke-width="5"/>
<path d="M1069.7 2006.5L1100.1 2022.5L1100.1 2038.5" stroke-width="5"/>
<path d="M1109.7 2028.9L1140.1 2016.1" stroke-width="4"/>
<path d="M1100.1 2038.5L1116.1 2040.1L1140.1 2024.1"/>
<path d="M1139.3 1964.9L1167.3 1963.3L1168.9 2022.5L1160.9 2027.3L1141.7 2025.7Z" fill="#fff"/>
<line x1="1159.3" y1="1979.3" x2="1159.3" y2="2024.1"/>
<path d="M1146.5 1964.9L1146.5 1972.9L1160.9 1972.9L1160.9 1964.1" stroke-width="3.4"/>
<path d="M1002.4 1948.9L1052.1 1929.7L1066.5 1936.1L1052.1 1955.3L1042.5 1961.7Q1020.1 1976.1 1016.8 1987.3" stroke-width="3"/>
<path d="M1002.4 1948.9L1004 1961.7L1010.4 1958.5"/>
<path d="M1023.3 1939.3L1029.7 1952.1L1052.1 1955.3" stroke-width="5"/>
<path d="M1052.1 1932.9L1061.7 1932.9L1055.3 1944.1" stroke-width="3.6"/>
<path d="M1026.5 1964.9L1029.7 1956.9L1036.1 1955.3"/>
<path d="M1042.5 1961.7Q1061.7 1961.7 1068.1 1971.3L1069.7 2006.5"/>
<ellipse cx="1037.7" cy="2001.7" rx="26.4" ry="37.6" stroke-width="3.2" fill="#fff" transform="rotate(32 1037.7 2001.7)"/>
<ellipse cx="1039.3" cy="2001.7" rx="15.2" ry="25.6" stroke-width="3" transform="rotate(32 1039.3 2001.7)"/>
<path d="M1023.3 1993.7L1050.5 1987.3L1052.1 2008.1L1023.3 2016.1Z" stroke-width="5"/>
<line x1="1029.7" y1="1992.1" x2="1036.1" y2="2012.9" stroke-width="5"/>
<line x1="1042.5" y1="1988.9" x2="1045.7" y2="2009.7" stroke-width="5"/>
<line x1="1026.5" y1="2003.3" x2="1052.1" y2="1998.5" stroke-width="4"/>
<path d="M1052.1 1977.7Q1060.1 1984.1 1058.5 2000.1" stroke-width="3"/>
<path d="M1045.7 1977.7Q1052.1 1980.9 1052.1 1990.5"/>
<path d="M1016.8 2024.1L1026.5 2024.1L1024.9 2032.1L1018.5 2030.5Z"/>
<path d="M1004 1952.1L1012 1950.5L1010.4 1958.5L1004 1961.7" stroke-width="4"/>
<path d="M1026.5 1961.7L1032.9 1950.5L1029.7 1944.1" stroke-width="4"/>
<path d="M1036.1 1942.5L1050.5 1936.1L1058.5 1939.3L1055.3 1952.1" stroke-width="3.6"/>
<path d="M1015.2 2017.7L1023.3 2020.9L1029.7 2012.9" stroke-width="4"/>
<path d="M1016.8 1992.1L1015.2 2016.1" stroke-width="4.5"/>
<ellipse cx="1038.5" cy="2001.7" rx="9.6" ry="17.6" stroke-width="4" transform="rotate(32 1038.5 2001.7)"/>
<path d="M988 1971.3L1000.8 1968.1" stroke-width="3.4"/>
<path d="M992.8 1979.3L988 1988.9" stroke-width="3.4"/>
<path d="M1056.9 1980.9L1061.7 1993.7L1058.5 2009.7" stroke-width="3.4"/>
<path d="M1074.5 1929.7L1084.1 1926.5L1093.7 1929.7" stroke-width="3.4"/>
<path d="M1116.1 1929.7L1125.7 1936.1L1136.9 1936.1" stroke-width="3.4"/>
<path d="M1008.8 1996.9L1005.6 2012.9L1010.4 2020.9" stroke-width="4"/>
<path d="M968 1971.3Q972 1967.3 980 1968.1L984 1984.1L984 2040.1L974.4 2039.3L968 2028.9Z" fill="#fff"/>
<line x1="971.2" y1="1972.9" x2="971.2" y2="2028.9" stroke-width="3.2"/>
<line x1="979.2" y1="1988.9" x2="979.2" y2="2035.3" stroke-width="2"/>
<path d="M974.4 1976.1Q980 1980.9 984 1977.7"/>
<path d="M980 1968.1L1002.4 1966.5L1004 1961.7" stroke-width="3"/>
<path d="M984 1993.7L1004 1968.1L1007.2 1971.3L986.4 1998.5Z" fill="#000"/>
<path d="M984 2001.7L1000.8 2009.7L1000.8 2020.9L986.4 2012.9"/>
<path d="M988 2025.7L1004 2030.5L1004 2009.7" stroke-width="3.4"/>
<path d="M984 2040.1L1004 2051.3L1016.8 2049.7L1068.1 2024.1" stroke-width="3.4"/>
<path d="M1004 2040.1L1016.8 2038.5L1016.8 2049.7L1004 2051.3Z" fill="#000"/>
<path d="M1007.2 2032.1L1023.3 2046.5"/>
<path d="M1050.5 2030.5L1068.1 2019.3L1068.1 2024.1" stroke-width="4"/>
<path d="M1058.5 2016.1L1066.5 2009.7"/>
<path d="M946.4 1873.6L976.8 1892.8L988 1886.4" stroke-width="3.2"/>
<path d="M988 1900L1036.1 1926.5"/>
<path d="M1012.8 1913.6L1012.8 1929.7L1023.3 1937.7"/>
<path d="M1023.3 1937.7L1072.9 1910.4"/>
<path d="M1088.9 2081.8L1097.7 2084.2L1093.7 2087.4Z" fill="#000"/>
<line x1="867.7" y1="1829.6" x2="897.9" y2="1846.8" stroke-width="13" stroke-linecap="butt"/>
<ellipse cx="876.8" cy="1834.8" rx="1.2" ry="4.2" stroke-width="1.6" transform="rotate(30 876.8 1834.8)" stroke="#fff"/>
<ellipse cx="882.8" cy="1838.2" rx="1.2" ry="4.2" stroke-width="1.6" transform="rotate(30 882.8 1838.2)" stroke="#fff"/>
<ellipse cx="888.8" cy="1841.7" rx="1.2" ry="4.2" stroke-width="1.6" transform="rotate(30 888.8 1841.7)" stroke="#fff"/>
<ellipse cx="896.9" cy="1846.4" rx="1.7" ry="4.7" stroke-width="2" fill="#fff" transform="rotate(30 896.9 1846.4)"/>
<line x1="851.7" y1="1852.4" x2="883.1" y2="1869.6" stroke-width="13" stroke-linecap="butt"/>
<ellipse cx="861.1" cy="1857.6" rx="1.2" ry="4.2" stroke-width="1.6" transform="rotate(30 861.1 1857.6)" stroke="#fff"/>
<ellipse cx="867.4" cy="1861" rx="1.2" ry="4.2" stroke-width="1.6" transform="rotate(30 867.4 1861)" stroke="#fff"/>
<ellipse cx="873.7" cy="1864.5" rx="1.2" ry="4.2" stroke-width="1.6" transform="rotate(30 873.7 1864.5)" stroke="#fff"/>
<ellipse cx="882.1" cy="1869.1" rx="1.7" ry="4.7" stroke-width="2" fill="#fff" transform="rotate(30 882.1 1869.1)"/>
<ellipse cx="907.1" cy="1854.2" rx="3.4" ry="3.9" stroke-width="5" fill="#fff"/>
<ellipse cx="891.7" cy="1877.6" rx="3" ry="3.4" stroke-width="5" fill="#fff"/>
<line x1="915.7" y1="1858.5" x2="939.8" y2="1872.1" stroke-width="8.5" stroke-linecap="butt"/>
<ellipse cx="939.8" cy="1872.1" rx="2" ry="4.4" stroke-width="3.5" fill="#fff" transform="rotate(30 939.8 1872.1)"/>
<line x1="899.7" y1="1882.6" x2="923.7" y2="1896.1" stroke-width="8.5" stroke-linecap="butt"/>
<ellipse cx="923.7" cy="1896.1" rx="2" ry="4.4" stroke-width="3.5" fill="#fff" transform="rotate(30 923.7 1896.1)"/>
<line x1="885.9" y1="1789.6" x2="885.9" y2="1833.3" stroke-width="3.6"/>
<path d="M946.5 1873.9L975.5 1892.4"/>
<path d="M987.8 1899.8L1040 1922"/>
<path d="M1160 1500L1201.9 1519.7L1201.9 1535.1" stroke-width="3.4"/>
<path d="M1190.5 1536.9L1190.5 1653.9L1195.7 1657L1213.6 1647.2L1213.6 1536.9Z" fill="#fff"/>
<ellipse cx="1201.9" cy="1536.9" rx="11.5" ry="4.3" fill="#fff"/>
<path d="M1190.8 1541.3Q1201.9 1548 1213.3 1541.3"/>
<line x1="1214.2" y1="1548" x2="1214.2" y2="1613.3" stroke-width="5"/>
<path d="M1192 1549.3L1197.6 1549.3L1197.6 1556.7L1192 1556.7"/>
<line x1="1189.6" y1="1598.5" x2="1213" y2="1599.8" stroke-width="4"/>
<line x1="1195.7" y1="1603.4" x2="1211.7" y2="1602.8" stroke-width="6"/>
<path d="M1195.1 1656.4L1195.1 1618.2L1210.5 1618.2L1210.5 1647.8"/>
<line x1="1220.3" y1="1642.9" x2="1229.6" y2="1649" stroke-width="3.2"/>
<path d="M1236.4 1647.8L1240 1644.7L1251.1 1647.2L1264.7 1638.5L1268.4 1638.5L1283.2 1648.4L1283.2 1677.3L1262.2 1689L1257.3 1689L1236.4 1677.3Z" fill="#fff"/>
<path d="M1236.4 1649L1257.3 1660.1L1283.2 1649.6"/>
<line x1="1257.3" y1="1660.1" x2="1257.3" y2="1689" stroke-width="4.5"/>
<path d="M1273.3 1652.7L1268.4 1683.5" stroke-width="3.2"/>
<line x1="1281.3" y1="1662.6" x2="1281.3" y2="1672.4" stroke-width="4"/>
<path d="M1240 1645.3L1251.1 1658.9"/>
<path d="M1290.5 1704.4L1293.6 1678.6L1299.2 1672.4L1309.6 1668.7L1319.5 1671.2L1319.5 1700.7L1306.6 1709.4L1295.5 1708.7Z" fill="#fff"/>
<path d="M1299.2 1672.4L1297.9 1681L1319.5 1671.8"/>
<path d="M1297.9 1681L1300.4 1709.4"/>
<line x1="1301.6" y1="1682.3" x2="1301.6" y2="1708.1" stroke-width="4"/>
<line x1="1293.6" y1="1679.8" x2="1291.8" y2="1703.2" stroke-width="4"/>
<path d="M885.4 2104.6Q885.4 2100.9 893.3 2100.9Q901.1 2100.9 901.1 2104.6L901.1 2160L885.4 2160Z" fill="#fff"/>
<line x1="885.9" y1="2109.6" x2="900.1" y2="2110.5" stroke-width="2.2"/>
<line x1="885.9" y1="2116.2" x2="900.1" y2="2117.2" stroke-width="2.2"/>
<line x1="885.9" y1="2122.9" x2="900.1" y2="2123.8" stroke-width="2.2"/>
<line x1="885.9" y1="2129.5" x2="900.1" y2="2130.5" stroke-width="2.2"/>
<line x1="885.9" y1="2136.2" x2="900.1" y2="2137.1" stroke-width="2.2"/>
<path d="M877 2168.7L879.7 2181L889.6 2185.4L903.1 2183.4L909.5 2168.7" fill="#fff"/>
<line x1="886.4" y1="2172.4" x2="887.1" y2="2184.2"/>
<line x1="899.4" y1="2172.4" x2="900.1" y2="2183.4"/>
<line x1="879.7" y1="2175.3" x2="906.8" y2="2174.8"/>
<path d="M885.4 2152.7A20.2 11.1 0 0 0 901.1 2152.7L901.1 2152.7Q914.2 2153.9 913.4 2162.5L913.4 2162.5Q893.3 2178.5 873.1 2162.5Z" stroke="none" fill="#fff"/>
<path d="M885.4 2150.7Q872.3 2153.9 873.1 2161.3A20.2 10.3 0 0 0 913.4 2161.3Q914.2 2153.9 901.1 2150.7"/>
<path d="M885.9 2161.3Q898.2 2168.7 899.4 2155.1"/>
<line x1="894.5" y1="2123.1" x2="894.5" y2="2160" stroke-width="3.4"/>
<path d="M1011 2112Q1011 2108.3 1018.9 2108.3Q1026.7 2108.3 1026.7 2112L1026.7 2167.4L1011 2167.4Z" fill="#fff"/>
<line x1="1011.5" y1="2116.9" x2="1025.8" y2="2117.9" stroke-width="2.2"/>
<line x1="1011.5" y1="2123.6" x2="1025.8" y2="2124.6" stroke-width="2.2"/>
<line x1="1011.5" y1="2130.2" x2="1025.8" y2="2131.2" stroke-width="2.2"/>
<line x1="1011.5" y1="2136.9" x2="1025.8" y2="2137.9" stroke-width="2.2"/>
<line x1="1011.5" y1="2143.5" x2="1025.8" y2="2144.5" stroke-width="2.2"/>
<path d="M1002.6 2176.1L1005.3 2188.4L1015.2 2192.8L1028.7 2190.8L1035.1 2176.1" fill="#fff"/>
<line x1="1012" y1="2179.8" x2="1012.7" y2="2191.6"/>
<line x1="1025" y1="2179.8" x2="1025.8" y2="2190.8"/>
<line x1="1005.3" y1="2182.7" x2="1032.4" y2="2182.2"/>
<path d="M1011 2160A20.2 11.1 0 0 0 1026.7 2160L1026.7 2160Q1039.8 2161.3 1039.1 2169.9L1039.1 2169.9Q1018.9 2185.9 998.7 2169.9Z" stroke="none" fill="#fff"/>
<path d="M1011 2158.1Q997.9 2161.3 998.7 2168.7A20.2 10.3 0 0 0 1039.1 2168.7Q1039.8 2161.3 1026.7 2158.1"/>
<path d="M1011.5 2168.7Q1023.8 2176.1 1025 2162.5"/>
<line x1="1020.1" y1="2130.5" x2="1020.1" y2="2167.4" stroke-width="3.4"/>
<path d="M1211.7 2096Q1211.7 2092.3 1219.6 2092.3Q1227.5 2092.3 1227.5 2096L1227.5 2151.4L1211.7 2151.4Z" fill="#fff"/>
<line x1="1212.2" y1="2100.9" x2="1226.5" y2="2101.9" stroke-width="2.2"/>
<line x1="1212.2" y1="2107.6" x2="1226.5" y2="2108.6" stroke-width="2.2"/>
<line x1="1212.2" y1="2114.2" x2="1226.5" y2="2115.2" stroke-width="2.2"/>
<line x1="1212.2" y1="2120.9" x2="1226.5" y2="2121.9" stroke-width="2.2"/>
<line x1="1212.2" y1="2127.5" x2="1226.5" y2="2128.5" stroke-width="2.2"/>
<path d="M1203.3 2160L1206.1 2172.4L1215.9 2176.8L1229.5 2174.8L1235.9 2160" fill="#fff"/>
<line x1="1212.7" y1="2163.7" x2="1213.4" y2="2175.6"/>
<line x1="1225.8" y1="2163.7" x2="1226.5" y2="2174.8"/>
<line x1="1206.1" y1="2166.7" x2="1233.2" y2="2166.2"/>
<path d="M1211.7 2144A20.2 11.1 0 0 0 1227.5 2144L1227.5 2144Q1240.5 2145.3 1239.8 2153.9L1239.8 2153.9Q1219.6 2169.9 1199.4 2153.9Z" stroke="none" fill="#fff"/>
<path d="M1211.7 2142.1Q1198.7 2145.3 1199.4 2152.7A20.2 10.3 0 0 0 1239.8 2152.7Q1240.5 2145.3 1227.5 2142.1"/>
<path d="M1212.2 2152.7Q1224.5 2160 1225.8 2146.5"/>
<line x1="1220.8" y1="2114.5" x2="1220.8" y2="2151.4" stroke-width="3.4"/>
<ellipse cx="1103.3" cy="2199" rx="20.2" ry="12.8" fill="#fff"/>
<ellipse cx="1103.8" cy="2197" rx="1" ry="1" fill="#000"/>
<line x1="1096.5" y1="2209.3" x2="1096.5" y2="2205.6"/>
<line x1="1113.7" y1="2208.1" x2="1113.7" y2="2205.1"/>
<path d="M1060.7 2250L1062 2277A43.1 24.6 0 0 0 1146.9 2277L1147.7 2250" stroke-width="3.6" fill="#fff"/>
<ellipse cx="1103.8" cy="2250" rx="43.3" ry="26.1" stroke-width="4" fill="#fff"/>
<ellipse cx="1103.8" cy="2248.5" rx="37.4" ry="21.7" stroke-width="3.6"/>
<path d="M1074.3 2259.8Q1103.8 2237.6 1135.9 2258.6" stroke-width="3.4"/>
<path d="M1064.4 2274.6A41.9 23.4 0 0 0 1144.5 2274.6" stroke-width="2"/>
<ellipse cx="1358.6" cy="2185.1" rx="9.2" ry="10.3" stroke-width="3" fill="#fff"/>
<ellipse cx="1359.2" cy="2185.1" rx="4.4" ry="5.5" stroke-width="3"/>
<line x1="1409.4" y1="2150" x2="1409.4" y2="2179.6" stroke-width="3.4"/>
<path d="M1403.9 2174L1391 2174L1382.7 2178.6Q1365.1 2193.4 1365.1 2205.4Q1365.1 2221.1 1373.4 2228.5L1393.7 2241.4L1407.6 2242.4L1433.5 2211L1429.8 2188.8Z" stroke="none" fill="#fff"/>
<path d="M1429.8 2188.8L1403.9 2174L1391 2174L1382.7 2178.6Q1365.1 2193.4 1365.1 2205.4Q1365.1 2221.1 1373.4 2228.5L1393.7 2241.4" stroke-width="3"/>
<ellipse cx="1413.1" cy="2216.9" rx="19.4" ry="28.1" stroke-width="3.2" fill="#fff" transform="rotate(25 1413.1 2216.9)"/>
<ellipse cx="1416.8" cy="2197.1" rx="4.8" ry="7" stroke-width="2.6" transform="rotate(25 1416.8 2197.1)"/>
<ellipse cx="1426.1" cy="2209.1" rx="4.8" ry="7" stroke-width="2.6" transform="rotate(25 1426.1 2209.1)"/>
<ellipse cx="1421.4" cy="2227.6" rx="4.8" ry="7" stroke-width="2.6" transform="rotate(25 1421.4 2227.6)"/>
<ellipse cx="1403.9" cy="2232.2" rx="4.8" ry="7" stroke-width="2.6" transform="rotate(25 1403.9 2232.2)"/>
<ellipse cx="1398.4" cy="2214.7" rx="4.8" ry="7" stroke-width="2.6" transform="rotate(25 1398.4 2214.7)"/>
<ellipse cx="1407.6" cy="2200.8" rx="4.8" ry="7" stroke-width="2.6" transform="rotate(25 1407.6 2200.8)"/>
<ellipse cx="1412.2" cy="2213.7" rx="4.1" ry="7.4" fill="#000" transform="rotate(25 1412.2 2213.7)"/>
<path d="M1400.2 2205.4L1426.1 2223.9" stroke-width="5"/>
<path d="M1439 2210L1439 2170.3L1448.2 2172.2" stroke-width="3"/>
<line x1="1450.1" y1="2174.9" x2="1482.4" y2="2195.3" stroke-width="9" stroke-linecap="butt"/>
<line x1="1454.3" y1="2183.1" x2="1458.8" y2="2174.9" stroke-width="1.6" stroke="#fff"/>
<line x1="1462.4" y1="2188.1" x2="1466.8" y2="2180" stroke-width="1.6" stroke="#fff"/>
<line x1="1470.5" y1="2193.2" x2="1474.9" y2="2185.1" stroke-width="1.6" stroke="#fff"/>
<path d="M1487 2192.5Q1485.2 2199.9 1492.6 2203.6" stroke-width="3.2"/>
<path d="M1492.6 2192.5Q1501.8 2189.7 1505.5 2196.2"/>
<polygon points="1493.3,2208.1 1519.2,2222.9 1526.9,2209.4 1501,2194.6" stroke="none" fill="#fff"/>
<ellipse cx="1497.2" cy="2201.4" rx="3.5" ry="7.8" fill="#fff" transform="rotate(29.7 1497.2 2201.4)"/>
<line x1="1493.3" y1="2208.1" x2="1519.2" y2="2222.9"/>
<line x1="1501" y1="2194.6" x2="1526.9" y2="2209.4"/>
<ellipse cx="1523.1" cy="2216.1" rx="3.5" ry="7.8" fill="#fff" transform="rotate(29.7 1523.1 2216.1)"/>
<line x1="1427.9" y1="2150" x2="1524" y2="2203.9"/>
<ellipse cx="1462.1" cy="2244.6" rx="22.2" ry="28.1" stroke-width="8" fill="#fff" transform="rotate(15 1462.1 2244.6)"/>
<ellipse cx="1465.8" cy="2244.2" rx="17.6" ry="25.9" stroke-width="3" fill="#fff" transform="rotate(15 1465.8 2244.2)"/>
<ellipse cx="1468.9" cy="2244.6" rx="11.5" ry="18.5" stroke-width="4.5" transform="rotate(15 1468.9 2244.6)"/>
<path d="M1477.8 2231.3Q1483.3 2246.1 1470.4 2260.8L1466.7 2259Q1475.9 2246.1 1474.1 2231.3Z" stroke-width="1" fill="#000"/>
<text x="1237" y="2260.5" style="font-size:10.5px;font-weight:bold" textLength="197" lengthAdjust="spacingAndGlyphs">PLATE OF SMALLER INNER DIA.</text>
<text x="1246" y="2272.5" style="font-size:10.5px;font-weight:bold" textLength="176" lengthAdjust="spacingAndGlyphs">SHOULD CONTACT PISTONS</text>
<path d="M1293 2279.5L1424 2279.5L1437 2260L1432 2258M1437 2260L1431 2264" stroke-width="2.4"/>
<path d="M1488 2264.5L1531.4 2238.7L1548.9 2246.1L1550.8 2301.5L1507.4 2327.4L1500 2323.7Z" stroke-width="3" fill="#fff"/>
<path d="M1501.8 2268.2L1542.5 2246.1"/>
<path d="M1501.8 2268.2L1507.4 2327.4" stroke-width="4"/>
<path d="M1508.3 2279.3L1546.1 2257.1L1548 2299.6L1512 2320Z" stroke-width="2.6"/>
<ellipse cx="1526.7" cy="2283.9" rx="14.8" ry="24" stroke-width="3.4" transform="rotate(25 1526.7 2283.9)"/>
<ellipse cx="1527.7" cy="2283.9" rx="9.2" ry="17.6" stroke-width="3" transform="rotate(25 1527.7 2283.9)"/>
<line x1="1520.3" y1="2295.9" x2="1533.2" y2="2275.6" stroke-width="4"/>
<line x1="1514.7" y1="2290.4" x2="1525.8" y2="2271.9"/>
<line x1="1529.5" y1="2299.6" x2="1540.6" y2="2279.3"/>
<line x1="1496.3" y1="2260.8" x2="1507.4" y2="2268.2" stroke-width="4"/>
<line x1="1514.7" y1="2253.5" x2="1518.4" y2="2264.5" stroke-width="4"/>
<line x1="1529.5" y1="2244.2" x2="1536.9" y2="2253.5" stroke-width="3.2"/>
<path d="M1512.9 2312.6L1544.3 2295.9"/>
<path d="M1553 2302.2Q1555.2 2295.5 1564.1 2297.7L1573 2306.6" stroke-width="3"/>
<polygon points="1566.1,2312.7 1654.7,2364.2 1661.9,2351.9 1573.2,2300.5" stroke="none" fill="#fff"/>
<ellipse cx="1569.6" cy="2306.6" rx="2.8" ry="7.1" fill="#fff" transform="rotate(30.1 1569.6 2306.6)"/>
<line x1="1566.1" y1="2312.7" x2="1654.7" y2="2364.2"/>
<line x1="1573.2" y1="2300.5" x2="1661.9" y2="2351.9"/>
<ellipse cx="1658.3" cy="2358" rx="2.8" ry="7.1" fill="#fff" transform="rotate(30.1 1658.3 2358)"/>
<line x1="1573" y1="2308.8" x2="1588.5" y2="2317.7" stroke-width="12" stroke-linecap="butt"/>
<ellipse cx="1615.1" cy="2332.8" rx="2.7" ry="7.1" stroke-width="2.4" transform="rotate(30 1615.1 2332.8)"/>
<ellipse cx="1620" cy="2335.6" rx="2.7" ry="7.1" stroke-width="2.4" transform="rotate(30 1620 2335.6)"/>
<ellipse cx="1624.8" cy="2338.5" rx="2.7" ry="7.1" stroke-width="2.4" transform="rotate(30 1624.8 2338.5)"/>
<ellipse cx="1629.7" cy="2341.4" rx="2.7" ry="7.1" stroke-width="2.4" transform="rotate(30 1629.7 2341.4)"/>
<line x1="1633.9" y1="2343.8" x2="1660.5" y2="2359.4" stroke-width="11" stroke-linecap="butt"/>
<ellipse cx="1673.8" cy="2368.7" rx="5.8" ry="9.8" stroke-width="5.5" fill="#fff" transform="rotate(20 1673.8 2368.7)"/>
<ellipse cx="1699.8" cy="2383.1" rx="7.5" ry="13.3" stroke-width="9" fill="#fff" transform="rotate(20 1699.8 2383.1)"/>
<ellipse cx="1698.2" cy="2382.4" rx="11.5" ry="17.3" stroke-width="2" transform="rotate(20 1698.2 2382.4)"/>
<ellipse cx="1734.8" cy="2404.1" rx="23.3" ry="35.5" stroke-width="3" fill="#fff" transform="rotate(20 1734.8 2404.1)"/>
<ellipse cx="1741.9" cy="2405.2" rx="13.7" ry="19.5" stroke-width="8" transform="rotate(20 1741.9 2405.2)"/>
<ellipse cx="1741.9" cy="2405.2" rx="6.2" ry="10" stroke-width="6" transform="rotate(20 1741.9 2405.2)"/>
<line x1="1730.4" y1="2395.3" x2="1752.5" y2="2413" stroke-width="3"/>
<line x1="1732.6" y1="2415.2" x2="1752.5" y2="2399.7" stroke-width="3"/>
<text x="1553" y="2410.5" style="font-size:10.5px;font-weight:bold" textLength="118" lengthAdjust="spacingAndGlyphs">SEAL SIDE OUTER</text>
<polygon points="1429.1,2397.1 1479,2427 1485.1,2416.7 1435.3,2386.8" stroke="none" fill="#fff"/>
<ellipse cx="1432.2" cy="2391.9" rx="2.4" ry="6" fill="#fff" transform="rotate(31 1432.2 2391.9)"/>
<line x1="1429.1" y1="2397.1" x2="1479" y2="2427"/>
<line x1="1435.3" y1="2386.8" x2="1485.1" y2="2416.7"/>
<ellipse cx="1482.1" cy="2421.9" rx="2.4" ry="6" fill="#fff" transform="rotate(31 1482.1 2421.9)"/>
<ellipse cx="1500.9" cy="2435.2" rx="12.2" ry="17.7" stroke-width="3.4" fill="#fff" transform="rotate(20 1500.9 2435.2)"/>
<ellipse cx="1502" cy="2435.2" rx="4.9" ry="11.5" stroke-width="4" transform="rotate(20 1502 2435.2)"/>
<ellipse cx="1681.6" cy="2540.5" rx="12.2" ry="17.7" stroke-width="3.4" fill="#fff" transform="rotate(20 1681.6 2540.5)"/>
<ellipse cx="1682.7" cy="2540.5" rx="4.9" ry="11.5" stroke-width="4" transform="rotate(20 1682.7 2540.5)"/>
<path d="M1520.9 2433L1569.6 2455.1L1558.6 2481.7L1512 2455.1Z" stroke-width="3.4" fill="#fff"/>
<line x1="1519.3" y1="2436.9" x2="1567.6" y2="2459.9" stroke-width="2.6"/>
<line x1="1517.7" y1="2440.9" x2="1565.6" y2="2464.7" stroke-width="2.6"/>
<line x1="1516.1" y1="2444.9" x2="1563.6" y2="2469.5" stroke-width="2.6"/>
<line x1="1514.5" y1="2448.9" x2="1561.7" y2="2474.3" stroke-width="2.6"/>
<line x1="1512.9" y1="2452.9" x2="1559.7" y2="2479.1" stroke-width="2.6"/>
<line x1="1555.2" y1="2448.5" x2="1545.2" y2="2475.1" stroke-width="2.4"/>
<ellipse cx="1586.3" cy="2483.9" rx="18.6" ry="23.5" stroke-width="3.2" fill="#fff" transform="rotate(20 1586.3 2483.9)"/>
<ellipse cx="1590.3" cy="2485.1" rx="9.8" ry="18.2" stroke-width="5" transform="rotate(20 1590.3 2485.1)"/>
<ellipse cx="1627.3" cy="2507.4" rx="35.5" ry="45.4" stroke-width="3" fill="#fff" transform="rotate(20 1627.3 2507.4)"/>
<ellipse cx="1627.9" cy="2507.9" rx="33.3" ry="43.2" stroke-width="7" transform="rotate(20 1627.9 2507.9)" stroke-dasharray="4.2 4.6" stroke-linecap="butt"/>
<ellipse cx="1632.8" cy="2510.5" rx="35.5" ry="45.4" stroke-width="3" fill="#fff" transform="rotate(20 1632.8 2510.5)"/>
<ellipse cx="1632.8" cy="2510.5" rx="33.3" ry="43.2" stroke-width="7" transform="rotate(20 1632.8 2510.5)" stroke-dasharray="4.2 4.6" stroke-linecap="butt"/>
<ellipse cx="1632.8" cy="2510.5" rx="32.1" ry="42.1" stroke-width="3.2" transform="rotate(20 1632.8 2510.5)"/>
<ellipse cx="1633.9" cy="2511" rx="25.5" ry="34.4" stroke-width="2.6" transform="rotate(20 1633.9 2511)"/>
<ellipse cx="1650.5" cy="2486.2" rx="5.5" ry="8.4" stroke-width="3" transform="rotate(20 1650.5 2486.2)"/>
<ellipse cx="1619.5" cy="2486.2" rx="5.5" ry="8.4" stroke-width="3" transform="rotate(20 1619.5 2486.2)"/>
<ellipse cx="1612.9" cy="2519.4" rx="5.5" ry="8.4" stroke-width="3" transform="rotate(20 1612.9 2519.4)"/>
<ellipse cx="1628.4" cy="2541.6" rx="5.5" ry="8.4" stroke-width="3" transform="rotate(20 1628.4 2541.6)"/>
<ellipse cx="1655" cy="2523.8" rx="5.5" ry="8.4" stroke-width="3" transform="rotate(20 1655 2523.8)"/>
<ellipse cx="1636.1" cy="2511.7" rx="12.9" ry="17.3" fill="#000" transform="rotate(20 1636.1 2511.7)"/>
<line x1="1632.8" y1="2554.9" x2="1632.8" y2="2582.6" stroke-width="3.6"/>
<path d="M401.6 2018.3L563 2108.8L556.7 2123.6L561.5 2127.3L558.6 2142.1L392.4 2051.6Q379.4 2035 394.2 2020.2Z" fill="#fff"/>
<ellipse cx="393.1" cy="2035.7" rx="8.1" ry="17" fill="#fff" transform="rotate(28 393.1 2035.7)"/>
<path d="M388.7 2020.2Q379.4 2035 386.8 2047.9"/>
<line x1="407.1" y1="2024.6" x2="503.2" y2="2077.4" stroke-width="5.5"/>
<line x1="410.8" y1="2029.4" x2="499.5" y2="2078.6" stroke-width="2"/>
<path d="M577.1 2116.2L754.4 2214.1L741.4 2245.5L715.6 2231.5L571.5 2151.3Q567.8 2134.7 577.1 2116.2Z" fill="#fff"/>
<ellipse cx="717.4" cy="2216" rx="5.9" ry="16.3" stroke-width="2.4" transform="rotate(28 717.4 2216)"/>
<ellipse cx="722.6" cy="2218.9" rx="5.9" ry="16.3" stroke-width="2.4" transform="rotate(28 722.6 2218.9)"/>
<ellipse cx="727.8" cy="2221.9" rx="5.9" ry="16.3" stroke-width="2.4" transform="rotate(28 727.8 2221.9)"/>
<ellipse cx="733" cy="2224.8" rx="5.9" ry="16.3" stroke-width="2.4" transform="rotate(28 733 2224.8)"/>
<ellipse cx="738.1" cy="2227.8" rx="5.9" ry="16.3" stroke-width="2.4" transform="rotate(28 738.1 2227.8)"/>
<ellipse cx="758.1" cy="2236.3" rx="10.3" ry="15.5" fill="#fff" transform="rotate(28 758.1 2236.3)"/>
<path d="M743.3 2216.7L766.2 2225.2"/>
<path d="M734.1 2244.8L752.5 2250"/>
<path d="M1516.5 2682L1618.1 2733L1610.7 2747.8L1616.2 2751.5L1612.5 2771.8L1505.4 2709Z" fill="#fff"/>
<ellipse cx="1509.1" cy="2696" rx="8.9" ry="14.8" fill="#fff" transform="rotate(28 1509.1 2696)"/>
<ellipse cx="1518.3" cy="2696.8" rx="5.5" ry="14.8" stroke-width="2.4" transform="rotate(28 1518.3 2696.8)"/>
<ellipse cx="1523.5" cy="2699.7" rx="5.5" ry="14.8" stroke-width="2.4" transform="rotate(28 1523.5 2699.7)"/>
<ellipse cx="1528.7" cy="2702.7" rx="5.5" ry="14.8" stroke-width="2.4" transform="rotate(28 1528.7 2702.7)"/>
<ellipse cx="1533.9" cy="2705.7" rx="5.5" ry="14.8" stroke-width="2.4" transform="rotate(28 1533.9 2705.7)"/>
<ellipse cx="1539" cy="2708.6" rx="5.5" ry="14.8" stroke-width="2.4" transform="rotate(28 1539 2708.6)"/>
<path d="M1627.3 2738.5L1782.5 2829L1760.3 2858.6L1619.9 2775.5Q1616.2 2755.2 1627.3 2738.5Z" fill="#fff"/>
<line x1="1666.1" y1="2768.1" x2="1775.1" y2="2830.9" stroke-width="5.5"/>
<line x1="1671.6" y1="2776.6" x2="1771.4" y2="2833.5" stroke-width="2"/>
<ellipse cx="1770.7" cy="2844.6" rx="9.6" ry="17" fill="#fff" transform="rotate(28 1770.7 2844.6)"/>
<path d="M1758.5 2827.2Q1747.4 2840.1 1754.8 2854.9"/>
<path d="M773.3 2245.3L803.7 2228.1L813 2230.5L813.9 2246.2L828.7 2251.7L832.4 2255.4L832.4 2273.9L821.3 2288.7L810.2 2293.3L801 2286.8L793.6 2285L784.3 2290.5L775.1 2288.7Z" stroke="none" fill="#fff"/>
<path d="M773.3 2245.3L803.7 2228.1L813 2230.5L813.9 2246.2L782.9 2263.7L784.3 2290.5L775.1 2288.7Z" stroke-width="3"/>
<path d="M779.7 2246.2L804.7 2232.3L812 2234.2"/>
<path d="M779.7 2246.2L781 2261.9"/>
<path d="M813.9 2246.2L828.7 2251.7"/>
<path d="M784.3 2290.5L793.6 2285L802.8 2290.5"/>
<ellipse cx="817.2" cy="2271.7" rx="12.9" ry="20" stroke-width="3.4" fill="#fff" transform="rotate(25 817.2 2271.7)"/>
<ellipse cx="817.6" cy="2271.7" rx="9.2" ry="15.9" stroke-width="3" transform="rotate(25 817.6 2271.7)"/>
<line x1="795.4" y1="2286.8" x2="795.4" y2="2360.7" stroke-width="3.6"/>
<path d="M833.3 2296.1L836.1 2288.7L845.3 2282.2L850.8 2283.1L855.5 2288.7L856.4 2314.5L861.9 2321L867.5 2318.2L873 2312.7L874.9 2305.3L873 2267.4L880.4 2261L888.7 2258.2L895.2 2263.7L894.3 2270.2L888.7 2275.7L888.7 2309L897 2312.7L895.2 2320.1L843.5 2348.7L839.8 2349.6L838.8 2345L833.3 2345.9L832.4 2342.3L839.8 2336.7L838.8 2299.8L836.1 2296.1Z" stroke-width="3" fill="#fff"/>
<line x1="840.7" y1="2299.8" x2="846.2" y2="2288.7"/>
<line x1="846.2" y1="2299.8" x2="846.2" y2="2336.7"/>
<line x1="875.8" y1="2270.2" x2="883.2" y2="2262.8"/>
<line x1="877.6" y1="2273.9" x2="877.6" y2="2307.1"/>
<line x1="858.2" y1="2318.2" x2="876.7" y2="2309"/>
<line x1="846.2" y1="2336.7" x2="839.8" y2="2345.9"/>
<path d="M927.5 2321.9L935.8 2325.6Q941.4 2336.7 938.6 2351.5Q934 2366.3 917.4 2377.4L904.4 2378.3Q893.3 2371.8 893.3 2358.9L897 2344.1L903.5 2338.6L907.2 2340.4L908.1 2358.9Q911.8 2364.4 917.4 2362.6Q924.7 2357 926.6 2347.8Z" stroke-width="3.2" fill="#fff"/>
<path d="M930.3 2329.3Q934 2347.8 917.4 2366.3"/>
<line x1="864.1" y1="2337.6" x2="864.1" y2="2429.1" stroke-width="3.4"/>
<line x1="918.3" y1="2377.4" x2="918.3" y2="2440" stroke-width="3.2"/>
<ellipse cx="973.9" cy="2376.4" rx="27.7" ry="36.9" stroke-width="3" fill="#fff" transform="rotate(20 973.9 2376.4)"/>
<ellipse cx="976.1" cy="2375.5" rx="27.7" ry="36.9" stroke-width="3" fill="#fff" transform="rotate(20 976.1 2375.5)"/>
<ellipse cx="977.6" cy="2376.4" rx="20" ry="27.7" stroke-width="15" transform="rotate(20 977.6 2376.4)" stroke-dasharray="3.6 5" stroke-linecap="butt"/>
<ellipse cx="980.7" cy="2378.3" rx="13.3" ry="20" stroke-width="3" fill="#fff" transform="rotate(20 980.7 2378.3)"/>
<ellipse cx="985.3" cy="2382.9" rx="8.9" ry="14.8" stroke-width="5" transform="rotate(20 985.3 2382.9)"/>
<ellipse cx="985.7" cy="2383.3" rx="4.1" ry="8.3" stroke-width="3" transform="rotate(20 985.7 2383.3)"/>
<ellipse cx="1068.6" cy="2428.6" rx="61.6" ry="82.9" stroke-width="3" fill="#fff" transform="rotate(20 1068.6 2428.6)"/>
<ellipse cx="1069" cy="2429.1" rx="58.1" ry="79.4" stroke-width="9" transform="rotate(20 1069 2429.1)" stroke-dasharray="5 6" stroke-linecap="butt"/>
<ellipse cx="1074.3" cy="2433.1" rx="58.5" ry="79.8" stroke-width="9" transform="rotate(20 1074.3 2433.1)" stroke-dasharray="5 6" stroke-linecap="butt"/>
<ellipse cx="1079.7" cy="2437.5" rx="61.6" ry="82.9" stroke-width="3" fill="#fff" transform="rotate(20 1079.7 2437.5)"/>
<ellipse cx="1079.7" cy="2437.5" rx="58.5" ry="79.8" stroke-width="7" transform="rotate(20 1079.7 2437.5)" stroke-dasharray="5 6" stroke-linecap="butt"/>
<ellipse cx="1083.6" cy="2438.6" rx="48.3" ry="69.8" stroke-width="3" transform="rotate(20 1083.6 2438.6)"/>
<ellipse cx="1101.8" cy="2388.7" rx="9.5" ry="15.8" stroke-width="3" transform="rotate(20 1101.8 2388.7)"/>
<ellipse cx="1074.1" cy="2407.6" rx="9.5" ry="15.8" stroke-width="3" transform="rotate(20 1074.1 2407.6)"/>
<ellipse cx="1130.6" cy="2397.6" rx="6.3" ry="10.5" stroke-width="3" transform="rotate(20 1130.6 2397.6)"/>
<ellipse cx="1131.3" cy="2436.4" rx="6.3" ry="10.5" stroke-width="3" transform="rotate(20 1131.3 2436.4)"/>
<ellipse cx="1101.8" cy="2479.6" rx="9.5" ry="15.8" stroke-width="3" transform="rotate(20 1101.8 2479.6)"/>
<ellipse cx="1075.2" cy="2495.1" rx="9.5" ry="15.8" stroke-width="3" transform="rotate(20 1075.2 2495.1)"/>
<ellipse cx="1045.3" cy="2448.6" rx="5.3" ry="9.5" stroke-width="3" transform="rotate(20 1045.3 2448.6)"/>
<ellipse cx="1046.4" cy="2484" rx="5.3" ry="9.5" stroke-width="3" transform="rotate(20 1046.4 2484)"/>
<path d="M1060.8 2435.3L1078.6 2428.6L1100.7 2413.1L1102.9 2455.2L1078.6 2475.2L1054.2 2466.3Z" stroke-width="3.4"/>
<line x1="1073" y1="2455.2" x2="1073" y2="2477.4"/>
<line x1="1060.8" y1="2435.3" x2="1073" y2="2455.2"/>
<line x1="1073" y1="2455.2" x2="1100.7" y2="2444.1"/>
<ellipse cx="1085.2" cy="2441.9" rx="7.8" ry="11.1" stroke-width="3" transform="rotate(20 1085.2 2441.9)"/>
<path d="M1107.4 2408.7L1120.7 2417.5L1118.5 2426.4L1109.6 2424.2"/>
<path d="M1109.6 2444.1L1116.2 2446.4"/>
<ellipse cx="1132.4" cy="2536.1" rx="16" ry="22.6" stroke-width="3" fill="#fff" transform="rotate(-15 1132.4 2536.1)"/>
<ellipse cx="1128.4" cy="2535" rx="16.4" ry="23.1" stroke-width="3.4" fill="#fff" transform="rotate(-15 1128.4 2535)"/>
<ellipse cx="1127.3" cy="2535.5" rx="5.3" ry="9.8" stroke-width="3.4" transform="rotate(-15 1127.3 2535.5)"/>
<line x1="1140.6" y1="2525.1" x2="1145.1" y2="2522.8" stroke-width="2"/>
<line x1="1142" y1="2529.9" x2="1145.9" y2="2527.7" stroke-width="2"/>
<line x1="1143.3" y1="2534.8" x2="1146.8" y2="2532.6" stroke-width="2"/>
<line x1="1144.6" y1="2539.7" x2="1147.7" y2="2537.5" stroke-width="2"/>
<line x1="1145.9" y1="2544.6" x2="1148.6" y2="2542.3" stroke-width="2"/>
<polygon points="1174.1,2500.2 1150.4,2512.8 1158.8,2528.4 1182.5,2515.8" stroke="none" fill="#fff"/>
<ellipse cx="1178.3" cy="2508" rx="4" ry="8.9" fill="#fff" transform="rotate(152 1178.3 2508)"/>
<line x1="1174.1" y1="2500.2" x2="1150.4" y2="2512.8"/>
<line x1="1182.5" y1="2515.8" x2="1158.8" y2="2528.4"/>
<ellipse cx="1154.6" cy="2520.6" rx="4" ry="8.9" fill="#fff" transform="rotate(152 1154.6 2520.6)"/>
<polygon points="1220.7,2470.7 1197,2483.3 1205.3,2499 1229,2486.3" stroke="none" fill="#fff"/>
<ellipse cx="1224.9" cy="2478.5" rx="4" ry="8.9" fill="#fff" transform="rotate(152 1224.9 2478.5)"/>
<line x1="1220.7" y1="2470.7" x2="1197" y2="2483.3"/>
<line x1="1229" y1="2486.3" x2="1205.3" y2="2499"/>
<ellipse cx="1201.1" cy="2491.1" rx="4" ry="8.9" fill="#fff" transform="rotate(152 1201.1 2491.1)"/>
<line x1="1187.8" y1="2614.8" x2="1187.8" y2="2634.8" stroke-width="3.6"/>
<ellipse cx="1249.2" cy="2465.2" rx="17.7" ry="24.8" stroke-width="4" fill="#fff" transform="rotate(-20 1249.2 2465.2)"/>
<ellipse cx="1249.2" cy="2465.2" rx="12.4" ry="19.1" stroke-width="11" transform="rotate(-20 1249.2 2465.2)" stroke-dasharray="3.2 4" stroke-linecap="butt"/>
<ellipse cx="1250.4" cy="2466.3" rx="6.7" ry="12.2" stroke-width="5" transform="rotate(-20 1250.4 2466.3)"/>
<ellipse cx="1289.5" cy="2561" rx="29.6" ry="39.7" stroke-width="3" fill="#fff" transform="rotate(25 1289.5 2561)"/>
<ellipse cx="1290" cy="2561.4" rx="27" ry="36.9" stroke-width="8" transform="rotate(25 1290 2561.4)" stroke-dasharray="4 4.6" stroke-linecap="butt"/>
<ellipse cx="1292.8" cy="2562.9" rx="29.6" ry="39.7" stroke-width="3" fill="#fff" transform="rotate(25 1292.8 2562.9)"/>
<ellipse cx="1292.8" cy="2562.9" rx="25.9" ry="36" stroke-width="9" transform="rotate(25 1292.8 2562.9)" stroke-dasharray="4 4.6" stroke-linecap="butt"/>
<ellipse cx="1296.5" cy="2564.7" rx="20" ry="31.4" stroke-width="3" transform="rotate(25 1296.5 2564.7)"/>
<ellipse cx="1298.7" cy="2566" rx="12.9" ry="20" stroke-width="7" transform="rotate(25 1298.7 2566)"/>
<ellipse cx="1298.7" cy="2566" rx="5.5" ry="10.2" stroke-width="5" transform="rotate(25 1298.7 2566)"/>
<path d="M1357.4 2575.8L1365.7 2579.5Q1371.3 2590.5 1368.5 2605.3Q1363.9 2620.1 1347.2 2631.2L1334.3 2632.1Q1323.2 2625.6 1323.2 2612.7L1326.9 2597.9L1333.4 2592.4L1337.1 2594.2L1338 2612.7Q1341.7 2618.3 1347.2 2616.4Q1354.6 2610.9 1356.5 2601.6Z" stroke-width="3.2" fill="#fff"/>
<path d="M1360.2 2583.2Q1363.9 2601.6 1347.2 2620.1"/>
<path d="M1366.6 2625.6L1369.4 2618.3L1378.6 2611.8L1384.2 2612.7L1388.8 2618.3L1389.7 2644.1L1395.3 2650.6L1400.8 2647.8L1406.4 2642.3L1408.2 2634.9L1406.4 2597L1413.7 2590.5L1422.1 2587.8L1428.5 2593.3L1427.6 2599.8L1422.1 2605.3L1422.1 2638.6L1430.4 2642.3L1428.5 2649.7L1376.8 2678.3L1373.1 2679.2L1372.2 2674.6L1366.6 2675.5L1365.7 2671.8L1373.1 2666.3L1372.2 2629.3L1369.4 2625.6Z" stroke-width="3" fill="#fff"/>
<line x1="1374.1" y1="2629.4" x2="1379.6" y2="2618.3"/>
<line x1="1379.6" y1="2629.4" x2="1379.6" y2="2666.3"/>
<line x1="1409.2" y1="2599.8" x2="1416.6" y2="2592.4"/>
<line x1="1411" y1="2603.5" x2="1411" y2="2636.7"/>
<line x1="1391.6" y1="2647.8" x2="1410.1" y2="2638.6"/>
<line x1="1379.6" y1="2666.3" x2="1373.2" y2="2675.5"/>
<path d="M1473.9 2645.1L1457.2 2639.5Q1438.8 2643.2 1436 2667.2L1436 2674.6L1456.3 2685.7Z" stroke-width="3" fill="#fff"/>
<path d="M1456.3 2658L1485.9 2642.3L1496 2648.8L1496 2685.7L1468.3 2700.5L1457.2 2698.6Z" stroke-width="3" fill="#fff"/>
<path d="M1462.8 2661.7L1488.6 2648.8L1490.5 2683.9L1463.7 2696.8Z"/>
<line x1="1456.3" y1="2658" x2="1462.8" y2="2661.7"/>
<line x1="1485.9" y1="2642.3" x2="1488.6" y2="2648.8"/>
<ellipse cx="1478.5" cy="2674.6" rx="10.2" ry="16.6" stroke-width="3.2" transform="rotate(25 1478.5 2674.6)"/>
<path d="M882 1061.1L899.3 1046.3L951 1026.6L953.4 1016.7L968.2 1012.8L992.9 1021.7L995.3 1056.2L1020 1058.6L1029.8 1068.5L1029.8 1090.6L1086.5 1120.2L1125.9 1115.3L1165.3 1135L1177.6 1139.9L1180 1169.5Q1244.1 1144.8 1293.3 1159.6Q1335.2 1184.2 1340.1 1223.6L1364.8 1224.6L1367.2 1263.1L1391.9 1265.5L1465.8 1297.5L1468.2 1356.7L1448.5 1376.4L1386.9 1410.8L1372.2 1409.9L1258.9 1332L1234.2 1334.5L1106.2 1423.2L1091.4 1421.7L896.8 1309.9L895.3 1268L923.9 1258.1L928.8 1218.7L953.4 1189.2L963.3 1174.4L960.8 1162.1L882 1122.7Z" stroke="none" fill="#fff"/>
<path d="M1180 1172.6Q1209.6 1154.9 1250.9 1153.9Q1290.3 1158.8 1321.9 1182.5Q1337.6 1198.2 1340.6 1219.9"/>
<path d="M1180 1243.5L1262.8 1189.4Q1282.5 1178.5 1302.2 1176.6"/>
<path d="M1241.1 1251.4Q1258.8 1221.9 1274.6 1216Q1290.3 1204.1 1314 1205.1Q1329.8 1214 1335.7 1231.7"/>
<path d="M1341.6 1222.9L1364.2 1222.9Q1367.2 1225.8 1367.2 1231.7L1367.2 1261.3Q1363.3 1267.2 1357.3 1268.2"/>
<path d="M1335.7 1237.6L1357.3 1237.6L1357.3 1261.3L1337.6 1261.3L1335.7 1267.2L1357.3 1268.2" stroke-width="3.2"/>
<path d="M1340.6 1219.9L1335.7 1237.6L1329.8 1253.4L1326.8 1272.1"/>
<line x1="1274.6" y1="1216" x2="1274.6" y2="1251.4" stroke-width="3.4"/>
<path d="M1278.5 1229.8Q1282.5 1257.3 1321.9 1277"/>
<path d="M1289.4 1208.1Q1294.3 1241.6 1325.8 1263.3"/>
<path d="M1286.4 1225.8L1298.2 1224.8L1299.2 1231.7L1292.3 1232.7"/>
<path d="M1296.3 1241.6L1316 1230.7L1316 1249.5L1325.8 1241.6"/>
<line x1="1306.1" y1="1243.5" x2="1325.8" y2="1258.3"/>
<line x1="1302.2" y1="1247.5" x2="1323.8" y2="1263.3"/>
<path d="M1259.8 1255.4L1274.6 1251.4L1264.7 1262.3L1263.7 1272.1" stroke-width="3.2"/>
<path d="M1180 1277L1256.8 1254.4"/>
<path d="M1180 1298.7L1250.9 1274.1"/>
<path d="M1264.7 1262.3L1278.5 1257.3"/>
<path d="M1180 1312.5L1199.7 1299.7L1262.8 1275.1L1262.8 1293.8L1286.4 1299.1L1317.9 1296.7" stroke-width="2.6"/>
<path d="M1199.7 1299.7L1196.7 1302.7L1196.7 1383.4" stroke-width="3.6"/>
<path d="M1228.3 1283L1228.3 1311.5" stroke-width="4"/>
<line x1="1234.2" y1="1283" x2="1234.2" y2="1314.5"/>
<path d="M1262.8 1293.8L1235.2 1314.5L1221.4 1320"/>
<path d="M1235.2 1325.3Q1247 1334.2 1260.8 1325.3L1262.8 1318.4Q1274.6 1310.5 1290.3 1316.5L1316 1332.6"/>
<path d="M1260.8 1346L1262.8 1338.5Q1278.5 1332.2 1296.3 1342.5" stroke-width="3.4"/>
<path d="M1213.5 1324.3L1231.2 1352.9L1199.7 1354.3"/>
<path d="M1213.5 1324.3L1213.5 1342.1L1229.3 1359.8L1197.7 1373.6"/>
<path d="M1219.4 1336.2L1235.2 1340.1"/>
<path d="M1205.6 1346L1227.3 1348"/>
<path d="M1180 1336.2L1188.9 1335.2L1188.9 1340.1L1180 1341.1" stroke-width="3.4"/>
<path d="M1180 1397.2L1191.8 1393.3L1196.7 1383.4L1270.6 1349L1290.3 1349L1377 1409.5L1388.9 1410L1453.9 1375.6L1453.9 1338.1"/>
<path d="M1196.7 1375.6L1268.7 1342.1"/>
<path d="M1282.5 1275.1L1292.3 1281L1292.3 1297.7"/>
<path d="M1298.2 1296.7L1298.2 1286.9L1306.1 1277L1317.9 1283"/>
<path d="M1306.1 1277L1317.9 1272.1L1347.5 1291.8L1363.3 1283L1363.3 1275.1" stroke-width="2.6"/>
<path d="M1317.9 1283L1347.5 1297.7L1369.2 1284.9"/>
<ellipse cx="1380" cy="1274.1" rx="12.2" ry="7.1" fill="#fff"/>
<ellipse cx="1380" cy="1274.5" rx="5.3" ry="2.6" stroke-width="3.4"/>
<path d="M1368.2 1275.1L1369.2 1295.8"/>
<path d="M1391.8 1275.1L1391.8 1306.6"/>
<path d="M1388.9 1279L1388.9 1304.6"/>
<path d="M1317.9 1296.7Q1323.8 1292.8 1337.6 1293.8L1343.5 1298.7L1343.5 1306.6Q1329.8 1311.5 1318.9 1306.6Z" fill="#fff"/>
<ellipse cx="1330.7" cy="1302.3" rx="5.5" ry="3" stroke-width="3.2"/>
<line x1="1317.9" y1="1298.7" x2="1317.9" y2="1358.8" stroke-width="4"/>
<path d="M1333.7 1308.6L1333.7 1336.2L1317.9 1336.2"/>
<path d="M1343.5 1306.6L1339.6 1312.5L1339.6 1340.1L1355.4 1351.9"/>
<path d="M1349.5 1302.7L1349.5 1326.3"/>
<path d="M1323.8 1338.1L1355.4 1366.7L1353.4 1326.3"/>
<path d="M1357.3 1302.7L1394.8 1322.4L1412.5 1316.5L1394.8 1308.6L1369.2 1296.7" stroke-width="3.2"/>
<path d="M1394.8 1281L1424.3 1291.8"/>
<path d="M1394.8 1308.6L1436.2 1306.6"/>
<path d="M1424.3 1289.3Q1436.2 1283 1448 1286.9L1465.7 1296.7L1467.7 1363.7L1453.9 1372"/>
<path d="M1424.3 1289.3L1424.3 1302.7Q1436.2 1310.5 1459.8 1308.6"/>
<line x1="1436.2" y1="1306.6" x2="1436.2" y2="1326.3" stroke-width="3.4"/>
<ellipse cx="1436.2" cy="1293.8" rx="5.5" ry="2.8" stroke-width="3"/>
<ellipse cx="1452.3" cy="1303.3" rx="5.5" ry="2.8" stroke-width="3"/>
<path d="M1383 1330.2L1416.5 1313.5L1432.2 1308.6" stroke-width="3.2"/>
<path d="M1384.9 1336.2L1412.5 1324.3"/>
<path d="M1412.5 1324.3L1459.8 1337.1"/>
<path d="M1412.5 1324.3L1394.8 1342.1L1396.7 1369.7"/>
<path d="M1355.4 1334.2Q1363.3 1328.3 1375.1 1332.2"/>
<ellipse cx="1364.2" cy="1334.6" rx="5.1" ry="2.6" stroke-width="3" transform="rotate(-20 1364.2 1334.6)"/>
<ellipse cx="1381.4" cy="1343.6" rx="5.1" ry="2.8" stroke-width="3"/>
<path d="M1356.4 1346L1361.3 1341.1L1373.1 1345L1393.8 1342.1"/>
<path d="M1353.4 1334.2L1353.4 1365.7"/>
<ellipse cx="1423.3" cy="1360.8" rx="12.2" ry="24.6" stroke-width="5" transform="rotate(25 1423.3 1360.8)"/>
<ellipse cx="1434.2" cy="1355.9" rx="11.8" ry="24.6" stroke-width="3.4" transform="rotate(25 1434.2 1355.9)"/>
<path d="M1396.7 1342.1Q1412.5 1330.2 1428.3 1334.2L1451.9 1342.1"/>
<path d="M1412.5 1379.5Q1428.3 1389.4 1444 1375.6"/>
<line x1="1404.6" y1="1369.7" x2="1404.6" y2="1399.6" stroke-width="3.2"/>
<line x1="1408.6" y1="1371.6" x2="1408.6" y2="1398.2"/>
<line x1="1379" y1="1361.8" x2="1379" y2="1400.2"/>
<path d="M1390.8 1377.5L1398.7 1369.7"/>
<line x1="1452.9" y1="1342.1" x2="1452.9" y2="1375.6" stroke-width="3.4"/>
<path d="M1241.1 1419.9Q1241.1 1417.3 1244.6 1417.3Q1248 1417.3 1248 1419.9L1248 1440L1241.1 1440Z" fill="#fff"/>
<polygon points="1463.1,1404.8 1490.7,1426 1517.7,1390.8 1490.1,1369.6" stroke="none" fill="#fff"/>
<ellipse cx="1476.6" cy="1387.2" rx="11.1" ry="22.2" fill="#fff" transform="rotate(37.5 1476.6 1387.2)"/>
<line x1="1463.1" y1="1404.8" x2="1490.7" y2="1426"/>
<line x1="1490.1" y1="1369.6" x2="1517.7" y2="1390.8"/>
<ellipse cx="1504.2" cy="1408.4" rx="11.1" ry="22.2" fill="#fff" transform="rotate(37.5 1504.2 1408.4)"/>
<ellipse cx="1504.2" cy="1408.4" rx="7.4" ry="14.8" transform="rotate(35 1504.2 1408.4)"/>
<ellipse cx="1542.1" cy="1428.1" rx="16.3" ry="20.7" stroke-width="5" fill="#fff" transform="rotate(20 1542.1 1428.1)"/>
<ellipse cx="1544.6" cy="1428.1" rx="7.9" ry="13.8" stroke-width="3" transform="rotate(20 1544.6 1428.1)"/>
<path d="M883.3 1062.5L883.3 1123L969.8 1162.9L969.8 1177.3L958.7 1180.7"/>
<path d="M883.7 1062.5Q888.8 1055.9 899.9 1057.2L917.7 1039.5Q925.4 1037.7 933.2 1040.3L953.1 1035.5L953.1 1020Q959.8 1013.7 970.9 1015.1L983.1 1017.7Q995.2 1023.9 995.2 1031L995.2 1055.4L1011.9 1058.1"/>
<path d="M884.4 1064.3Q892.2 1073.2 905.5 1075.8L923.2 1078L923.2 1106.4" stroke-width="3.4"/>
<ellipse cx="897.7" cy="1064.3" rx="4.9" ry="2.9" stroke-width="3"/>
<ellipse cx="913.2" cy="1072" rx="4.9" ry="2.9" stroke-width="3"/>
<path d="M923.2 1078L943.2 1051L933.2 1040.3"/>
<path d="M917.7 1039.5L905.5 1055"/>
<path d="M906.6 1107.5L954.2 1120.2L954.2 1093.1"/>
<path d="M906.6 1107.5L923.2 1106.4"/>
<line x1="954.2" y1="1124.1" x2="954.2" y2="1150.7" stroke-width="3.2"/>
<path d="M936.5 1098.6L945.4 1098.6L945.4 1105.3L936.5 1105.3Z"/>
<ellipse cx="967.5" cy="1022.2" rx="5.3" ry="3.1" stroke-width="3"/>
<ellipse cx="980.8" cy="1031.5" rx="5.3" ry="3.1" stroke-width="3"/>
<path d="M953.8 1036.6L965.3 1044.3L985.3 1039.9L995.2 1031"/>
<path d="M965.3 1044.3L965.3 1066.5"/>
<path d="M985.3 1039.9L985.3 1068.7" stroke-width="4"/>
<path d="M943.2 1051L965.3 1066.5L985.3 1068.7L1003 1079.8" stroke-width="3.6"/>
<path d="M925.4 1073.2L963.1 1088.7" stroke-width="3.2"/>
<path d="M929.9 1066.5L954.2 1077.6"/>
<ellipse cx="967.5" cy="1091.3" rx="6.7" ry="4" stroke-width="3"/>
<path d="M955.3 1089.8Q967.5 1083.1 980.8 1087.6L985.3 1093.1L985.3 1120.8L954.2 1124.1"/>
<path d="M958.7 1128.6L985.3 1120.8L1007.4 1133"/>
<path d="M963.1 1128.6L985.3 1141.9L1005.2 1135.2"/>
<path d="M1000.8 1064.7Q1007.4 1054.3 1023 1055.4Q1030.7 1059.4 1030.7 1066.5L1030.7 1088.7L1016.3 1093.1"/>
<path d="M1000.8 1064.7L1000.8 1084.2"/>
<ellipse cx="1016.3" cy="1064.3" rx="5.3" ry="3.1" stroke-width="3"/>
<path d="M1005.2 1073.2L1014.1 1075.4L1014.1 1095.3" stroke-width="3.4"/>
<line x1="994.1" y1="1088.7" x2="1069.5" y2="1141.9" stroke-width="4"/>
<line x1="1011.9" y1="1110.8" x2="1073.9" y2="1146.3" stroke-width="4"/>
<line x1="985.3" y1="1141.9" x2="1069.5" y2="1153" stroke-width="4"/>
<line x1="1020.7" y1="1172.9" x2="1060.6" y2="1159.6" stroke-width="4"/>
<line x1="1003" y1="1190.6" x2="1069.5" y2="1177.3" stroke-width="4"/>
<line x1="1034" y1="1192.9" x2="1073.9" y2="1179.6" stroke-width="4"/>
<line x1="1042.9" y1="1195.1" x2="1082.8" y2="1188.4" stroke-width="4"/>
<path d="M1003 1079.8L1038.5 1093.1L1091.7 1124.1" stroke-width="3.2"/>
<path d="M1020.7 1095.3L1038.5 1088.7L1100.5 1126.4"/>
<path d="M1023 1106.4L1034 1115.3L1047.3 1115.3"/>
<path d="M1014.1 1104.2L1029.6 1110.8" stroke-width="4"/>
<path d="M985.3 1141.9L994.1 1155.2Q985.3 1168.5 989.7 1177.3Q998.6 1172.9 1003 1159.6" stroke-width="3.2"/>
<path d="M1020.7 1172.9L1023 1195.1"/>
<path d="M1034 1192.9L1038.5 1212.8L1051.8 1223.9"/>
<path d="M1047.3 1195.1L1045.1 1212.8"/>
<path d="M1060.6 1199.5L1054 1221.7" stroke-width="3.4"/>
<ellipse cx="1102.8" cy="1150.7" rx="28.4" ry="13.7" stroke-width="4" fill="#fff"/>
<ellipse cx="1103.9" cy="1155.2" rx="21.1" ry="8.9" stroke-width="3.4"/>
<path d="M1082.8 1159.6L1082.8 1239.4" stroke-width="3.4"/>
<line x1="1089.5" y1="1161.8" x2="1089.5" y2="1208.4" stroke-width="3.6"/>
<line x1="1096.1" y1="1161.8" x2="1096.1" y2="1208.4" stroke-width="3.6"/>
<line x1="1102.8" y1="1161.8" x2="1102.8" y2="1208.4" stroke-width="3.6"/>
<line x1="1110.5" y1="1161.8" x2="1110.5" y2="1208.4" stroke-width="3.6"/>
<line x1="1117.2" y1="1161.8" x2="1117.2" y2="1208.4" stroke-width="3.6"/>
<path d="M1127.1 1137.4L1127.1 1261.6" stroke-width="3.4"/>
<path d="M1133.8 1133L1133.8 1199.5"/>
<path d="M1091.7 1199.5Q1089.5 1221.7 1082.8 1239.4" stroke-width="5"/>
<path d="M1118.3 1190.6Q1131.6 1199.5 1147.1 1199.5" stroke-width="4"/>
<path d="M1100.5 1124.1L1113.8 1120.8L1127.1 1128.6"/>
<path d="M1131.6 1126.4L1142.7 1123L1147.1 1133"/>
<path d="M1147.1 1133L1162.6 1133L1164.8 1155.2L1175.9 1157.4L1178.1 1188.4L1151.5 1200.6"/>
<path d="M1138.2 1141.9L1158.2 1141.9L1160.4 1168.5L1171.5 1170.7"/>
<path d="M1149.3 1159.6L1164.8 1155.2"/>
<path d="M1151.5 1177.3L1175.9 1172.9"/>
<ellipse cx="1131.6" cy="1232.8" rx="27.7" ry="15.5" stroke-width="5" transform="rotate(-10 1131.6 1232.8)"/>
<path d="M1109.4 1228.3L1153.8 1230.5"/>
<path d="M1127.1 1217.2L1129.4 1243.8"/>
<path d="M1113.8 1221.7L1147.1 1241.6"/>
<path d="M1149.3 1221.7L1118.3 1239.4"/>
<path d="M1147.1 1203.9L1162.6 1217.2L1162.6 1319.2" stroke-width="3.6"/>
<path d="M969.8 1177.3L958.7 1180.7Q936.5 1188.4 929.9 1206.2L929.9 1243.8L925.4 1246.1L925.4 1261.6"/>
<path d="M936.5 1192.9L947.6 1184L960.9 1195.1L949.8 1212.8L932.1 1219.5"/>
<path d="M949.8 1212.8L954.2 1243.8"/>
<path d="M960.9 1195.1L974.2 1210.6L994.1 1221.7"/>
<path d="M974.2 1195.1Q985.3 1186.2 1005.2 1184" stroke-width="3.6"/>
<path d="M974.2 1199.5Q972 1217.2 989.7 1226.1L1011.9 1221.7" stroke-width="3.2"/>
<path d="M998.6 1203.9L1025.2 1205.1L1026.3 1218.4L999.7 1218.4Z" stroke-width="3.4"/>
<line x1="1003" y1="1210.6" x2="1023" y2="1210.6" stroke-width="3.2"/>
<line x1="1006.3" y1="1197.3" x2="1020.7" y2="1197.3" stroke-width="3.2"/>
<line x1="956.5" y1="1235" x2="956.5" y2="1332.5" stroke-width="4"/>
<line x1="960.9" y1="1241.6" x2="960.9" y2="1334.7" stroke-width="2.6"/>
<line x1="969.8" y1="1246.1" x2="969.8" y2="1341.4" stroke-width="2.6"/>
<line x1="975.3" y1="1250.5" x2="975.3" y2="1343.6" stroke-width="4"/>
<line x1="985.3" y1="1254.9" x2="985.3" y2="1348" stroke-width="4"/>
<line x1="998.6" y1="1259.4" x2="998.6" y2="1305.9" stroke-width="2.6"/>
<line x1="1003" y1="1317" x2="1003" y2="1363.6" stroke-width="2.6"/>
<path d="M956.5 1235L994.1 1223.9"/>
<path d="M969.8 1246.1L1011.9 1230.5L1051.8 1223.9"/>
<path d="M985.3 1254.9L1025.2 1241.6"/>
<path d="M976.4 1345.8L1003 1354.7"/>
<path d="M980.8 1339.2L1000.8 1350.3"/>
<path d="M1025.2 1221.7L1025.2 1235"/>
<path d="M1011.9 1221.7L1011.9 1248.3"/>
<path d="M896.6 1266Q903.3 1261.6 921 1264.2L932.1 1273.1L932.1 1304.1" fill="#fff"/>
<path d="M896.6 1266L896.6 1304.1L929.9 1324.1L1091.7 1417.2L1109.4 1419L1136 1405.7"/>
<path d="M932.1 1273.1L954.2 1257.1Q943.2 1254.9 925.4 1261.6"/>
<ellipse cx="912.1" cy="1271.6" rx="6.2" ry="3.3" stroke-width="3"/>
<ellipse cx="943.2" cy="1267.1" rx="6.2" ry="3.3" stroke-width="3"/>
<path d="M903.3 1287.1L929.9 1299.3L929.9 1286"/>
<path d="M903.3 1287.1L921 1286"/>
<path d="M932.1 1324.1L956.5 1324.1L1011.9 1356.9"/>
<path d="M1056.2 1223.9L1051.8 1274.9L1042.9 1295.9" stroke-width="5"/>
<path d="M1062.9 1223.9L1062.9 1277.1L1082.8 1288.2"/>
<path d="M1011.9 1294.8L1047.3 1274.9"/>
<path d="M987.5 1302.6L1007.4 1294.8L1007.4 1310.4Z"/>
<path d="M1082.8 1252.7Q1096.1 1246.1 1111.6 1252.7L1111.6 1261.6Q1096.1 1268.2 1083.9 1261.6Z" fill="#fff"/>
<ellipse cx="1097.2" cy="1257.6" rx="5.8" ry="3.1" stroke-width="3.4"/>
<path d="M1082.8 1261.6L1082.8 1310.4" stroke-width="3.4"/>
<path d="M1111.6 1261.6L1111.6 1314.8"/>
<path d="M1120.5 1252.7L1122.7 1319.2" stroke-width="3.4"/>
<path d="M1078.4 1272.7L1230 1272.2" stroke-width="2.4"/>
<path d="M1129.4 1248.3L1131.6 1261.6L1142.7 1266"/>
<ellipse cx="1079.5" cy="1324.8" rx="16.6" ry="12.2" stroke-width="5" fill="#fff"/>
<ellipse cx="1078.4" cy="1325.9" rx="6.7" ry="3.3" stroke-width="3.4"/>
<path d="M1011.9 1323.7L1025.2 1319.2L1025.2 1314.8L1014.1 1314.8"/>
<ellipse cx="1019.6" cy="1319.2" rx="4" ry="2.7" stroke-width="3"/>
<path d="M1011.9 1325.9L1034 1321.4L1054 1312.6L1069.5 1313.7"/>
<path d="M1096.1 1328.1L1093.9 1343.6L1069.5 1350.3"/>
<path d="M1124.9 1319.2Q1140.5 1337 1167.1 1332.5L1198.1 1319.2"/>
<path d="M1142.7 1321.4L1158.2 1323.7L1162.6 1319.2" stroke-width="3.6"/>
<path d="M1100.5 1332.5L1124.9 1319.2"/>
<path d="M1025.2 1332.5L1054 1328.1L1054 1376.9"/>
<line x1="1026.3" y1="1337" x2="1026.3" y2="1365.8" stroke-width="3.4"/>
<path d="M1016.3 1368L1054 1376.9L1047.3 1383.5L1023 1374.6"/>
<path d="M1058.4 1330.3L1058.4 1385.7" stroke-width="3.4"/>
<path d="M1062.9 1376.9L1062.9 1390.2"/>
<path d="M1054 1328.1L1069.5 1341.4"/>
<path d="M1076.2 1352.5L1091.7 1359.1L1091.7 1412.3" stroke-width="3.2"/>
<path d="M1076.2 1352.5L1105 1350.3L1198.1 1339.2" stroke-width="3.6"/>
<ellipse cx="1102.8" cy="1364" rx="6.2" ry="3.1" stroke-width="3.2"/>
<path d="M1116.1 1359.1L1116.1 1410.1" stroke-width="3.4"/>
<path d="M1131.6 1356.9L1133.8 1392.4" stroke-width="3.4"/>
<path d="M1133.8 1356.9L1198.1 1376.9"/>
<path d="M1120.5 1394.6L1180.4 1387.9L1198.1 1374.6"/>
<path d="M1131.6 1399L1171.5 1359.1"/>
<path d="M1182.6 1332.5L1189.2 1341.4L1175.9 1342.5"/>
<ellipse cx="1182.6" cy="1337.4" rx="4.9" ry="2.7" stroke-width="3"/>
<path d="M1198.1 1297.1L1198.1 1376.9" stroke-width="3.4"/>
<path d="M1167.1 1308.1L1230 1283.8"/>
<path d="M1109.4 1419L1230 1359.1"/>
<path d="M1198.1 1319.2L1230 1305.9"/>
<path d="M1215.8 1323.7L1224.7 1345.8L1230 1348"/>
<path d="M1198.1 1354.7L1230 1363.6"/>
<path d="M1164.8 1250.5L1230 1212.8"/>
<path d="M1164.8 1223.9L1180.4 1172.9L1230 1155.2" stroke-width="2.4"/>
<path d="M1078.4 1387.9L1078.4 1440"/>
<ellipse cx="1010.1" cy="1391.3" rx="8.4" ry="3.1" stroke-width="3.2" fill="#fff"/>
<ellipse cx="1010.1" cy="1396.1" rx="8.4" ry="3.1" stroke-width="3.2" fill="#fff"/>
<ellipse cx="1010.1" cy="1401" rx="8.4" ry="3.1" stroke-width="3.2" fill="#fff"/>
<ellipse cx="1010.1" cy="1405.9" rx="8.4" ry="3.1" stroke-width="3.2" fill="#fff"/>
<ellipse cx="1010.1" cy="1410.8" rx="8.4" ry="3.1" stroke-width="3.2" fill="#fff"/>
<ellipse cx="1011.1" cy="1449.3" rx="12.8" ry="6.9" stroke-width="4.5" fill="#fff"/>
<path d="M931.6 2895.8L951.8 2887.1L972.1 2863.9L1035.8 2826.3L1044.5 2822L1076.3 2820.5L1080.6 2808.9L1099.5 2807.5L1119.7 2806L1128.4 2798.8L1148.7 2800.3L1151.5 2811.8L1189.2 2835L1226.8 2842.2L1281.8 2848L1290.5 2839.3L1307.8 2837.9L1325.2 2848L1365.7 2869.7L1373 2878.4L1371.5 2901.6L1354.2 2910.2L1358.5 2924.7L1354.2 2950.8L1331 2956.6L1307.8 2965.2L1304.9 2976.8L1284.7 2979.7L1267.3 2988.4L1264.4 2997.1L1212.3 3011.5L1206.5 3020.2L1197.9 3057.9L1180.5 3052.1L1174.7 3040.5L1140 3049.2L1140 3057.9L1105.2 3060.8L1096.6 3050.6L1093.7 3041.9L1061.8 3023.1L1044.5 3034.7L1024.2 3031.8L1009.7 3026L1003.9 3031.8L986.6 3023.1L977.9 3008.7L963.4 3002.9L963.4 2988.4L946 2988.4L946 2971L934.5 2965.2Z" stroke-width="3" fill="#fff"/>
<path d="M967.8 2945L980.8 2936.3L980.8 2875.5L1003.9 2866.8L1041.6 2843.7L1064.7 2840.8L1067.6 2832.1L1093.7 2823.4L1157.3 2855.3L1186.3 2840.8L1192.1 2861L1209.4 2878.4L1238.4 2866.8L1238.4 2852.4L1290.5 2855.3L1293.4 2866.8L1342.6 2869.7L1351.3 2901.6L1336.8 2930.5L1293.4 2947.9L1270.2 2947.9L1238.4 2968.1L1221 2979.7L1192.1 3000L1105.2 3037.6L1096.6 3034.7L967.8 2953.7Z" stroke-width="2.6"/>
<path d="M934.5 2953.7L1099.5 3041.9L1209.4 3002.9L1354.2 2942.1" stroke-width="3.4"/>
<path d="M941.7 2907.4L954.7 2895.8L975 2872.6L1038.7 2835L1076.3 2827.8" stroke-width="2.4"/>
<path d="M1151.5 2811.8L1189.2 2835" stroke-width="5"/>
<path d="M1226.8 2842.2L1281.8 2848" stroke-width="5"/>
<path d="M1099.5 2807.5L1119.7 2806" stroke-width="4"/>
<path d="M1035.8 2826.3L972.1 2863.9" stroke-width="4"/>
<path d="M948.9 2942.1L1093.7 3026" stroke-width="2.2"/>
<path d="M1111 3034.7L1261.5 2979.7L1351.3 2936.3" stroke-width="2.2"/>
<path d="M1128.4 2918.9Q1070.5 2916 1050.2 2936.3Q1035.8 2959.5 1056 2976.8Q1082.1 2994.2 1116.8 2991.3" stroke-width="3.2"/>
<path d="M1122.6 2930.5Q1082.1 2930.5 1064.7 2947.9Q1053.1 2965.2 1070.5 2979.7Q1087.9 2988.4 1111 2986.9" stroke-width="4"/>
<path d="M1119.7 2942.1Q1090.8 2942.1 1076.3 2956.6Q1067.6 2971 1085 2979.7Q1099.5 2984.1 1113.9 2982.6" stroke-width="3.2"/>
<path d="M1093.7 2918.9L1128.4 2917.5" stroke-width="4"/>
<line x1="1113.9" y1="2947.9" x2="1113.9" y2="2988.4" stroke-width="3.4"/>
<path d="M1122.6 2965.2Q1119.7 2988.4 1134.2 3000Q1128.4 3011.5 1119.7 3011.5" stroke-width="5"/>
<path d="M1134.2 2979.7Q1148.7 2988.4 1140 3005.8L1122.6 3014.4" stroke-width="3"/>
<ellipse cx="1018.4" cy="2963.8" rx="15.1" ry="8.1" stroke-width="4"/>
<ellipse cx="1018.4" cy="2963.8" rx="11.6" ry="4.6" stroke-width="2"/>
<path d="M1067.6 2840.8L1067.6 2890L980.8 2936.3"/>
<path d="M1067.6 2890L1093.7 2887.1L1128.4 2904.5"/>
<line x1="1082.1" y1="2845.1" x2="1082.1" y2="2887.7" stroke-width="3.4"/>
<line x1="1105.2" y1="2855.8" x2="1105.2" y2="2887.7"/>
<line x1="1093.7" y1="2823.4" x2="1093.7" y2="2852.4"/>
<path d="M1003.9 2866.8L1003.9 2913.1"/>
<line x1="1021.3" y1="2858.1" x2="1021.3" y2="2875.5"/>
<line x1="1041.6" y1="2845.1" x2="1041.6" y2="2866.8"/>
<line x1="1009.7" y1="2863.9" x2="1009.7" y2="2881.3" stroke-width="3.4"/>
<path d="M1093.7 2823.4L1157.3 2855.3L1157.3 2864.5L1128.4 2861.6L1128.4 2918.9L1148.7 2928.2L1148.7 2864.5" stroke-width="3"/>
<line x1="1137.1" y1="2863.9" x2="1137.1" y2="2922.4" stroke-width="3.4"/>
<line x1="1142.9" y1="2863.9" x2="1142.9" y2="2924.7"/>
<path d="M1099.5 2830.7L1154.4 2858.1" stroke-width="4"/>
<path d="M1157.3 2855.3L1186.3 2840.8L1186.3 2918.9L1151.5 2936.3" stroke-width="3"/>
<line x1="1180.5" y1="2846.6" x2="1180.5" y2="2916" stroke-width="3.4"/>
<path d="M1154.4 2884.2L1180.5 2881.3"/>
<path d="M1157.3 2895.8L1177.6 2904.5L1177.6 2918.9"/>
<ellipse cx="1166" cy="2875.5" rx="4.6" ry="4.1" stroke-width="3"/>
<ellipse cx="1134.2" cy="2946.4" rx="4.6" ry="3.5" stroke-width="3"/>
<path d="M1192.1 2861L1209.4 2878.4L1238.4 2866.8"/>
<path d="M1206.5 2878.4L1206.5 2895.8L1238.4 2881.3L1255.7 2866.8"/>
<path d="M1209.4 2866.8Q1226.8 2877 1235.5 2855.8" stroke-width="3"/>
<path d="M1195 2849.5L1206.5 2845.1L1209.4 2855.3" stroke-width="3.4"/>
<path d="M1197.9 2858.1L1215.2 2852.4"/>
<line x1="1238.4" y1="2852.4" x2="1238.4" y2="2866.8"/>
<line x1="1293.4" y1="2855.3" x2="1293.4" y2="2866.8"/>
<path d="M1293.4 2875.5L1342.6 2870.3"/>
<path d="M1302.1 2890L1325.2 2901.6L1313.6 2924.7L1293.4 2918.9" stroke-width="3.2"/>
<path d="M1307.8 2881.3Q1331 2884.2 1325.2 2901.6"/>
<line x1="1270.2" y1="2910.2" x2="1270.2" y2="2947.9" stroke-width="3"/>
<line x1="1287.6" y1="2916" x2="1287.6" y2="2947.9"/>
<path d="M1261.5 2936.3L1270.2 2910.2L1304.9 2875.5"/>
<path d="M1276 2916L1296.3 2895.8"/>
<path d="M1192.1 2939.2L1304.9 2875.5"/>
<path d="M1151.5 2976.8L1180.5 2959.5L1218.1 2962.3"/>
<path d="M1197.9 2968.1L1209.4 2979.7L1226.8 2962.3" stroke-width="3.4"/>
<path d="M1137.1 2953.7L1154.4 2991.3L1168.9 2986.9"/>
<path d="M1221 2895.8L1232.6 2890L1244.2 2901.6" stroke-width="3.2"/>
<path d="M1226.8 2910.2L1238.4 2907.4"/>
<line x1="946" y1="2971" x2="946" y2="2988.4" stroke-width="3"/>
<line x1="963.4" y1="2988.4" x2="963.4" y2="3002.9" stroke-width="3"/>
<line x1="980.8" y1="2994.2" x2="980.8" y2="3011.5" stroke-width="3"/>
<line x1="1006.8" y1="3005.8" x2="1006.8" y2="3028.9" stroke-width="3"/>
<line x1="1027.1" y1="3011.5" x2="1027.1" y2="3037.6" stroke-width="3"/>
<line x1="1038.7" y1="3017.3" x2="1038.7" y2="3034.7" stroke-width="3"/>
<line x1="986.6" y1="3000" x2="986.6" y2="3020.2" stroke-width="3"/>
<path d="M1044.5 2994.2L1093.7 3020.2" stroke-width="4"/>
<path d="M1076.3 2997.1L1105.2 2994.2L1122.6 2982.6" stroke-width="3.4"/>
<path d="M1070.5 3005.8L1093.7 3008.7"/>
<path d="M1082.1 3000L1087.9 3017.3"/>
<line x1="1218.1" y1="3005.8" x2="1209.4" y2="3040.5" stroke-width="3"/>
<line x1="1238.4" y1="3000" x2="1226.8" y2="3046.3" stroke-width="3"/>
<line x1="1255.7" y1="3000" x2="1238.4" y2="3034.7" stroke-width="3"/>
<line x1="1212.3" y1="3011.5" x2="1206.5" y2="3040.5" stroke-width="3"/>
<path d="M1122.6 3043.4L1166 3034.7L1168.9 3049.2"/>
<path d="M1140 3040.5L1151.5 3049.2L1180.5 3040.5"/>
<path d="M1192.1 3020.2L1197.9 3040.5"/>
<ellipse cx="944.6" cy="2901.6" rx="4.3" ry="3.8" stroke-width="3"/>
<ellipse cx="986.6" cy="2866.8" rx="4.3" ry="3.8" stroke-width="3"/>
<ellipse cx="1050.2" cy="2827.8" rx="4.3" ry="3.8" stroke-width="3"/>
<ellipse cx="1135.6" cy="2804.6" rx="4.3" ry="3.8" stroke-width="3"/>
<ellipse cx="1299.2" cy="2845.1" rx="4.3" ry="3.8" stroke-width="3"/>
<ellipse cx="1358.5" cy="2881.3" rx="4.3" ry="3.8" stroke-width="3"/>
<ellipse cx="1342.6" cy="2927.6" rx="4.3" ry="3.8" stroke-width="3"/>
<ellipse cx="1293.4" cy="2955.1" rx="4.3" ry="3.8" stroke-width="3"/>
<ellipse cx="1252.9" cy="2971" rx="4.3" ry="3.8" stroke-width="3"/>
<ellipse cx="1189.2" cy="3008.7" rx="4.3" ry="3.8" stroke-width="3"/>
<ellipse cx="1109.6" cy="3036.2" rx="4.3" ry="3.8" stroke-width="3"/>
<ellipse cx="1090.8" cy="3008.7" rx="4.3" ry="3.8" stroke-width="3"/>
<ellipse cx="1025.6" cy="2989.8" rx="4.3" ry="3.8" stroke-width="3"/>
<ellipse cx="948.9" cy="2946.4" rx="4.3" ry="3.8" stroke-width="3"/>
<path d="M1022.2 3131L1029.1 3131L1029.1 3170.4L1022.2 3170.4Z" stroke-width="2.4" fill="#fff"/>
<line x1="1022.2" y1="3135" x2="1029.1" y2="3135" stroke-width="1.8"/>
<line x1="1022.2" y1="3138.4" x2="1029.1" y2="3138.4" stroke-width="1.8"/>
<line x1="1022.2" y1="3141.9" x2="1029.1" y2="3141.9" stroke-width="1.8"/>
<line x1="1022.2" y1="3145.3" x2="1029.1" y2="3145.3" stroke-width="1.8"/>
<line x1="1022.2" y1="3148.8" x2="1029.1" y2="3148.8" stroke-width="1.8"/>
<line x1="1022.2" y1="3152.2" x2="1029.1" y2="3152.2" stroke-width="1.8"/>
<line x1="1022.2" y1="3155.7" x2="1029.1" y2="3155.7" stroke-width="1.8"/>
<line x1="1022.2" y1="3159.1" x2="1029.1" y2="3159.1" stroke-width="1.8"/>
<line x1="1022.2" y1="3162.6" x2="1029.1" y2="3162.6" stroke-width="1.8"/>
<line x1="1022.2" y1="3166" x2="1029.1" y2="3166" stroke-width="1.8"/>
<path d="M1017.7 3171.9L1033.5 3171.9L1035.5 3177.8L1030.5 3182.8L1020.7 3182.8L1015.8 3177.8Z" stroke-width="3.4" fill="#fff"/>
<line x1="1022.7" y1="3172.9" x2="1022.7" y2="3181.8"/>
<line x1="1028.6" y1="3172.9" x2="1028.6" y2="3181.8"/>
<path d="M1254.7 3020.2L1261.6 3020.2L1261.6 3092.6L1254.7 3092.6Z" stroke-width="2.4" fill="#fff"/>
<line x1="1254.7" y1="3024.1" x2="1261.6" y2="3024.1" stroke-width="1.8"/>
<line x1="1254.7" y1="3027.6" x2="1261.6" y2="3027.6" stroke-width="1.8"/>
<line x1="1254.7" y1="3031" x2="1261.6" y2="3031" stroke-width="1.8"/>
<line x1="1254.7" y1="3034.5" x2="1261.6" y2="3034.5" stroke-width="1.8"/>
<line x1="1254.7" y1="3037.9" x2="1261.6" y2="3037.9" stroke-width="1.8"/>
<line x1="1254.7" y1="3041.4" x2="1261.6" y2="3041.4" stroke-width="1.8"/>
<line x1="1254.7" y1="3044.8" x2="1261.6" y2="3044.8" stroke-width="1.8"/>
<line x1="1254.7" y1="3048.3" x2="1261.6" y2="3048.3" stroke-width="1.8"/>
<line x1="1254.7" y1="3051.7" x2="1261.6" y2="3051.7" stroke-width="1.8"/>
<line x1="1254.7" y1="3055.2" x2="1261.6" y2="3055.2" stroke-width="1.8"/>
<line x1="1254.7" y1="3058.6" x2="1261.6" y2="3058.6" stroke-width="1.8"/>
<line x1="1254.7" y1="3062.1" x2="1261.6" y2="3062.1" stroke-width="1.8"/>
<line x1="1254.7" y1="3065.5" x2="1261.6" y2="3065.5" stroke-width="1.8"/>
<line x1="1254.7" y1="3069" x2="1261.6" y2="3069" stroke-width="1.8"/>
<line x1="1254.7" y1="3072.4" x2="1261.6" y2="3072.4" stroke-width="1.8"/>
<line x1="1254.7" y1="3075.9" x2="1261.6" y2="3075.9" stroke-width="1.8"/>
<line x1="1254.7" y1="3079.3" x2="1261.6" y2="3079.3" stroke-width="1.8"/>
<line x1="1254.7" y1="3082.8" x2="1261.6" y2="3082.8" stroke-width="1.8"/>
<line x1="1254.7" y1="3086.2" x2="1261.6" y2="3086.2" stroke-width="1.8"/>
<line x1="1254.7" y1="3089.7" x2="1261.6" y2="3089.7" stroke-width="1.8"/>
<path d="M1250.2 3094.1L1266 3094.1L1268 3100L1263.1 3104.9L1253.2 3104.9L1248.3 3100Z" stroke-width="3.4" fill="#fff"/>
<line x1="1255.2" y1="3095.1" x2="1255.2" y2="3103.9"/>
<line x1="1261.1" y1="3095.1" x2="1261.1" y2="3103.9"/>
<path d="M1131.5 3140.9L1138.4 3140.9L1138.4 3213.3L1131.5 3213.3Z" stroke-width="2.4" fill="#fff"/>
<line x1="1131.5" y1="3144.8" x2="1138.4" y2="3144.8" stroke-width="1.8"/>
<line x1="1131.5" y1="3148.3" x2="1138.4" y2="3148.3" stroke-width="1.8"/>
<line x1="1131.5" y1="3151.7" x2="1138.4" y2="3151.7" stroke-width="1.8"/>
<line x1="1131.5" y1="3155.2" x2="1138.4" y2="3155.2" stroke-width="1.8"/>
<line x1="1131.5" y1="3158.6" x2="1138.4" y2="3158.6" stroke-width="1.8"/>
<line x1="1131.5" y1="3162.1" x2="1138.4" y2="3162.1" stroke-width="1.8"/>
<line x1="1131.5" y1="3165.5" x2="1138.4" y2="3165.5" stroke-width="1.8"/>
<line x1="1131.5" y1="3169" x2="1138.4" y2="3169" stroke-width="1.8"/>
<line x1="1131.5" y1="3172.4" x2="1138.4" y2="3172.4" stroke-width="1.8"/>
<line x1="1131.5" y1="3175.9" x2="1138.4" y2="3175.9" stroke-width="1.8"/>
<line x1="1131.5" y1="3179.3" x2="1138.4" y2="3179.3" stroke-width="1.8"/>
<line x1="1131.5" y1="3182.8" x2="1138.4" y2="3182.8" stroke-width="1.8"/>
<line x1="1131.5" y1="3186.2" x2="1138.4" y2="3186.2" stroke-width="1.8"/>
<line x1="1131.5" y1="3189.7" x2="1138.4" y2="3189.7" stroke-width="1.8"/>
<line x1="1131.5" y1="3193.1" x2="1138.4" y2="3193.1" stroke-width="1.8"/>
<line x1="1131.5" y1="3196.6" x2="1138.4" y2="3196.6" stroke-width="1.8"/>
<line x1="1131.5" y1="3200" x2="1138.4" y2="3200" stroke-width="1.8"/>
<line x1="1131.5" y1="3203.4" x2="1138.4" y2="3203.4" stroke-width="1.8"/>
<line x1="1131.5" y1="3206.9" x2="1138.4" y2="3206.9" stroke-width="1.8"/>
<line x1="1131.5" y1="3210.3" x2="1138.4" y2="3210.3" stroke-width="1.8"/>
<path d="M1127.1 3214.8L1142.9 3214.8L1144.8 3220.7L1139.9 3225.6L1130 3225.6L1125.1 3220.7Z" stroke-width="3.4" fill="#fff"/>
<line x1="1132" y1="3215.8" x2="1132" y2="3224.6"/>
<line x1="1137.9" y1="3215.8" x2="1137.9" y2="3224.6"/>
<line x1="1025.6" y1="3020.2" x2="1025.6" y2="3131" stroke-width="3.4"/>
<path d="M907.6 1048.8L945.1 1041.3L962 1026.3"/>
<path d="M918.8 1060.1L950.8 1075.1L950.8 1108.9"/>
<path d="M926.3 1080.8L926.3 1108.9L954.5 1122.1"/>
<path d="M945.1 1041.3L982.7 1065.7L999.6 1060.1"/>
<line x1="982.7" y1="1065.7" x2="982.7" y2="1093.9"/>
<path d="M967.7 1048.8L994 1073.3"/>
<line x1="978.9" y1="1071.4" x2="1001.5" y2="1093.9" stroke-width="3.6"/>
<line x1="986.5" y1="1052.6" x2="986.5" y2="1075.1" stroke-width="3.6"/>
<path d="M994 1084.5L1035.3 1097.7L1072.9 1124"/>
<path d="M1020.3 1101.4L1046.6 1116.5" stroke-width="3.6"/>
<path d="M1027.8 1090.2L1065.3 1112.7L1091.6 1129.6"/>
<path d="M1031.5 1087.2L1069.1 1108.9L1095.4 1125.8"/>
<path d="M937.6 1045.1L950.8 1056.3L963.9 1052.6" stroke-width="3"/>
<path d="M915.1 1041.3L930.1 1035.7L945.1 1041.3"/>
<ellipse cx="941.4" cy="1101.4" rx="4.5" ry="3.8" stroke-width="2.6"/>
<path d="M1072.9 1148.4L1035.3 1142.7L994 1144.6L982.7 1150.3" stroke-width="3.4"/>
<path d="M1074.7 1155.9L1031.5 1161.5L994 1176.6L978.9 1195.3" stroke-width="3.4"/>
<path d="M1076.6 1165.3L1042.8 1176.6L1027.8 1195.3L1024 1210.4" stroke-width="3.4"/>
<path d="M1080.4 1172.8L1057.8 1191.6L1050.3 1217.9L1054.1 1232.9" stroke-width="3.4"/>
<path d="M1086 1176.6L1074.7 1202.9L1072.9 1225.4" stroke-width="3.4"/>
<path d="M1071 1144.6L1035.3 1138.2L995.8 1139.7" stroke-width="2.2"/>
<path d="M1072.9 1160.8L1033.4 1167.2L997.7 1182.2L984.6 1199.1" stroke-width="2.2"/>
<path d="M1074.7 1169.8L1046.6 1182.2L1033.4 1199.1L1029.7 1214.1" stroke-width="2.2"/>
<path d="M1077.4 1177.3L1062.3 1195.3L1056 1219.8" stroke-width="2.2"/>
<path d="M1082.6 1181.1L1078.9 1204.7L1077.7 1225.4" stroke-width="2.2"/>
<line x1="1095.4" y1="1165.3" x2="1089.8" y2="1225.4" stroke-width="4.5"/>
<line x1="1129.2" y1="1161.5" x2="1133" y2="1210.4" stroke-width="3.6"/>
<line x1="1102.2" y1="1167.2" x2="1099.9" y2="1210.4" stroke-width="3.6"/>
<line x1="1110.4" y1="1169" x2="1109.7" y2="1210.4" stroke-width="3"/>
<line x1="1118.7" y1="1169" x2="1119.4" y2="1210.4" stroke-width="3"/>
<path d="M1133 1127.7L1140.5 1124L1146.1 1150.3"/>
<path d="M1148 1135.2L1163 1135.2L1164.9 1157.8L1176.2 1161.5L1178 1187.8L1155.5 1195.3"/>
<line x1="1140.5" y1="1150.3" x2="1140.5" y2="1195.3" stroke-width="3.6"/>
<path d="M1149.9 1161.5L1149.9 1202.9L1163 1217.9" stroke-width="3.6"/>
<path d="M1080.4 1142.7Q1102.9 1129.6 1129.2 1140.9" stroke-width="3"/>
<path d="M1086 1150.3Q1104.8 1140.9 1125.4 1148.4" stroke-width="3"/>
<line x1="956.4" y1="1232.9" x2="956.4" y2="1330.6" stroke-width="3.6"/>
<line x1="963.9" y1="1240.4" x2="963.9" y2="1338.1" stroke-width="2.4"/>
<line x1="977.1" y1="1244.2" x2="977.1" y2="1341.8" stroke-width="3.6"/>
<line x1="982.7" y1="1247.9" x2="982.7" y2="1345.6" stroke-width="2.4"/>
<line x1="997.7" y1="1255.4" x2="997.7" y2="1300.5" stroke-width="2.4"/>
<path d="M930.1 1187.8L945.1 1176.6L960.2 1180.3"/>
<path d="M930.1 1187.8L926.3 1255.4"/>
<path d="M945.1 1202.9L950.8 1232.9"/>
<path d="M960.2 1180.3L975.2 1210.4L994 1221.6"/>
<path d="M982.7 1161.5Q975.2 1176.6 990.2 1176.6Q999.6 1165.3 994 1157.8Z" stroke-width="3"/>
<path d="M997.7 1202.9L1027.8 1202.9L1027.8 1217.9L999.6 1217.9Z" stroke-width="3.2"/>
<line x1="1001.5" y1="1195.3" x2="1024" y2="1195.3" stroke-width="3"/>
<line x1="1003.4" y1="1210.4" x2="1024" y2="1210.4" stroke-width="2.4"/>
<path d="M975.2 1195.3Q994 1180.3 1020.3 1187.8" stroke-width="3"/>
<path d="M978.9 1210.4Q982.7 1225.4 1001.5 1229.2"/>
<path d="M1046.6 1289.3L1057.8 1263L1065.3 1221.6" stroke-width="4"/>
<path d="M1080.4 1259.2L1080.4 1323.1"/>
<path d="M1110.4 1255.4L1110.4 1319.3"/>
<line x1="1119.8" y1="1263" x2="1119.8" y2="1315.6" stroke-width="3.6"/>
<line x1="1129.2" y1="1285.5" x2="1129.2" y2="1311.8"/>
<path d="M1133 1244.2Q1148 1251.7 1163 1240.4" stroke-width="3.6"/>
<path d="M1133 1323.1Q1144.2 1330.6 1166.8 1323.1L1163 1315.6"/>
<path d="M1279.5 1221.6L1279.5 1263" stroke-width="3.6"/>
<path d="M1283.2 1232.9Q1298.2 1263 1328.3 1270.5" stroke-width="3"/>
<path d="M1290.7 1225.4L1302 1223.5L1303.9 1240.4"/>
<path d="M1317 1232.9L1320.8 1255.4L1339.6 1240.4" stroke-width="3.6"/>
<path d="M1339.6 1259.2L1358.4 1259.2L1358.4 1240.4" stroke-width="3.6"/>
<path d="M1200.6 1293L1200.6 1375.7" stroke-width="3.6"/>
<path d="M1230.6 1281.7L1230.6 1319.3"/>
<path d="M1236.3 1281.7L1236.3 1319.3"/>
<path d="M1324.5 1300.5L1324.5 1338.1"/>
<path d="M1337.7 1304.3L1337.7 1338.1" stroke-width="3.6"/>
<path d="M1369.6 1285.5L1369.6 1311.8"/>
<path d="M1390.3 1289.3L1390.3 1319.3"/>
<path d="M1403.4 1338.1L1403.4 1398.2" stroke-width="3.6"/>
<path d="M1410.9 1341.8L1410.9 1394.4"/>
<path d="M1380.9 1353.1L1380.9 1402"/>
<ellipse cx="1429.7" cy="1356.9" rx="16.9" ry="26.3" stroke-width="4" transform="rotate(25 1429.7 1356.9)"/>
<path d="M1395.9 1330.6L1456 1311.8" stroke-width="3.6"/>
<path d="M1354.6 1326.8L1388.4 1319.3L1403.4 1330.6" stroke-width="3"/>
<ellipse cx="1369.6" cy="1343.7" rx="5.3" ry="3.8" stroke-width="3"/>
<ellipse cx="1380.1" cy="1341.8" rx="5.3" ry="3.8" stroke-width="3"/>
<path d="M1264.4 1323.1Q1283.2 1311.8 1305.8 1326.8" stroke-width="3"/>
<path d="M1219.4 1319.3L1245.7 1338.1L1230.6 1360.6" stroke-width="3"/>
<path d="M1095.4 1353.1L1193.1 1371.9" stroke-width="3.6"/>
<path d="M1133 1356.9L1133 1398.2"/>
<path d="M1117.9 1360.6L1117.9 1409.5" stroke-width="3.6"/>
<path d="M1166.8 1349.4L1166.8 1383.2"/>
<path d="M1027.8 1330.6L1027.8 1368.1" stroke-width="3.6"/>
<path d="M1057.8 1338.1L1057.8 1383.2" stroke-width="3.6"/>
<path d="M1065.3 1368.1L1065.3 1386.9" stroke-width="3.6"/>
<path d="M1035.3 1326.8L1054.1 1323.1"/>
<path d="M939.4 2897.5L958.8 2889.4L978.5 2867.4L1039.8 2831.5L1048.2 2827.5L1078.9 2826L1083.2 2815L1101.2 2813.6L1120.9 2812.4L1129.3 2805.5L1148.7 2806.6L1151.5 2817.6L1187.7 2839.6L1224.2 2846.6L1277.2 2852.1L1285.6 2844L1302.3 2842.5L1319.1 2852.1L1358.2 2872.6L1365.2 2881L1363.7 2903L1347.2 2911.4L1351.3 2925L1347.2 2949.6" stroke-width="2.2"/>
<path d="M982.8 2870L1042.7 2835.6L1050.8 2831.8L1080.9 2830.4L1085 2819.9L1102.6 2818.5L1121.7 2817.3L1129.8 2810.7L1148.9 2811.8L1151.5 2822.5" stroke-width="3.4"/>
<path d="M931.6 2965.2L1096.6 3050.6" stroke-width="2.4"/>
<path d="M1105.2 3060.8L1212.3 3020.2L1354.2 2953.7" stroke-width="2.4"/>
<path d="M937.4 2901.6L937.4 2953.7" stroke-width="2.6"/>
<path d="M948.9 2895.8L948.9 2942.1" stroke-width="2.2"/>
<path d="M986.6 2875.5L986.6 2930.5" stroke-width="3.2"/>
<path d="M995.3 2872.6L995.3 2884.2"/>
<path d="M1015.5 2861L1015.5 2901.6" stroke-width="3"/>
<path d="M1047.4 2846.6L1047.4 2866.8"/>
<path d="M1056 2843.7L1056 2863.9" stroke-width="3"/>
<path d="M1070.5 2842.2L1093.7 2837.9"/>
<path d="M1076.3 2866.8L1076.3 2887.1" stroke-width="3"/>
<path d="M1099.5 2852.4L1099.5 2887.1" stroke-width="2.4"/>
<path d="M1111 2832.1L1157.3 2856.7" stroke-width="3.2"/>
<path d="M1122.6 2827.8L1163.1 2849.5" stroke-width="2.4"/>
<path d="M1160.2 2866.8L1183.4 2863.9" stroke-width="3"/>
<path d="M1163.1 2907.4L1183.4 2901.6" stroke-width="3"/>
<path d="M1168.9 2866.8L1168.9 2901.6"/>
<path d="M1192.1 2837.9L1221 2845.1L1223.9 2866.8" stroke-width="3"/>
<path d="M1215.2 2855.3L1235.5 2852.4" stroke-width="3.2"/>
<path d="M1244.2 2855.3L1284.7 2858.1" stroke-width="3.4"/>
<path d="M1296.3 2849.5L1296.3 2866.8L1304.9 2869.7" stroke-width="3"/>
<path d="M1310.7 2846.6L1310.7 2863.9"/>
<path d="M1333.9 2875.5L1354.2 2881.3L1348.4 2901.6" stroke-width="3"/>
<path d="M1307.8 2901.6L1336.8 2904.5" stroke-width="2.4"/>
<path d="M1299.2 2881.3L1290.5 2916" stroke-width="3"/>
<path d="M1331 2907.4L1325.2 2930.5"/>
<path d="M1276 2950.8L1293.4 2942.1L1304.9 2953.7" stroke-width="3"/>
<path d="M1241.3 2968.1L1258.6 2959.5L1267.3 2971" stroke-width="3"/>
<path d="M1339.7 2918.9L1345.5 2936.3L1331 2942.1" stroke-width="3"/>
<path d="M1174.7 3011.5L1189.2 3000L1203.6 3005.8" stroke-width="3"/>
<path d="M1099.5 3034.7L1111 3028.9L1122.6 3034.7" stroke-width="3"/>
<path d="M1015.5 2982.6L1030 2982.6L1035.8 2994.2L1021.3 2997.1Z" stroke-width="3"/>
<path d="M1082.1 3002.9L1099.5 3002.9L1102.3 3014.4L1085 3014.4Z" stroke-width="3"/>
<path d="M940.3 2942.1L954.7 2942.1L957.6 2952.2L943.2 2950.8Z" stroke-width="2.6"/>
<path d="M1041.6 2994.2L1056 2988.4L1070.5 2997.1" stroke-width="3"/>
<path d="M992.4 2968.1L1041.6 2995.6" stroke-width="2.2"/>
<path d="M1082.1 2965.2Q1093.7 2953.7 1116.8 2953.7" stroke-width="3"/>
<path d="M1140 2930.5L1151.5 2937.7L1160.2 2930.5" stroke-width="3.4"/>
<path d="M1128.4 2942.1L1140 2950.8L1137.1 2959.5" stroke-width="3.2"/>
<path d="M1174.7 2942.1L1209.4 2942.1L1221 2953.7" stroke-width="2.6"/>
<path d="M1168.9 2965.2L1189.2 2971" stroke-width="3"/>
<path d="M954.7 2991.3L954.7 3000L975 3011.5" stroke-width="2.6"/>
<path d="M992.4 3011.5L992.4 3026" stroke-width="3"/>
<path d="M1015.5 3020.2L1015.5 3031.8" stroke-width="3"/>
<path d="M1050.2 3017.3L1058.9 3028.9L1044.5 3034.7" stroke-width="2.6"/>
<path d="M1122.6 3049.2L1122.6 3059.3" stroke-width="3"/>
<path d="M1151.5 3041.9L1151.5 3053.5" stroke-width="3"/>
<path d="M1166 3037.6L1171.8 3049.2L1181.9 3046.3" stroke-width="3"/>
<path d="M1221 3008.7L1212.3 3041.9L1197.9 3057.9" stroke-width="3.4"/>
<path d="M1232.6 3004.3L1222.5 3044.8" stroke-width="3"/>
<path d="M1247.1 3001.4L1234 3040.5" stroke-width="3.4"/>
<path d="M1261.5 2998.5L1244.2 3031.8" stroke-width="2.6"/>
<path d="M1267.3 2988.4L1261.5 3011.5L1238.4 3034.7" stroke-width="2.4"/>
<line x1="1011" y1="1004" x2="1011" y2="1386" stroke-width="1.8"/>
<polyline points="1081,1273 1682,1273 1682,1236" stroke-width="2.2"/>
<polyline points="1127,1046 1127,1068 1102,1086 1102,1150"/>
<polyline points="1274.6,970 1274.6,1024 1126,1110 1126,1273"/>
<polyline points="1436,925.6 1436,961.6 1140.6,1127.6"/>
<line x1="812" y1="1289" x2="895" y2="1289"/>
<line x1="1094" y1="1428" x2="1094" y2="1609"/>
<line x1="1079" y1="1416" x2="1079" y2="1458"/>
<text x="1223" y="161.5">87</text>
<text x="1248" y="258">84</text>
<text x="1216" y="337.5">86</text>
<text x="1312" y="442">85</text>
<text x="1496" y="489">7</text>
<text x="1221" y="562">83</text>
<text x="1184" y="607">34</text>
<text x="1504" y="580">4</text>
<text x="1184" y="715">33</text>
<text x="1405" y="728">23</text>
<text x="1543" y="767">6</text>
<text x="1014" y="740">95</text>
<text x="1048" y="782">90</text>
<text x="864" y="828">13</text>
<text x="1061" y="871">19</text>
<text x="1199" y="862">20</text>
<text x="1300" y="824">15</text>
<text x="1548" y="851">5</text>
<text x="1547" y="901">6</text>
<text x="1063" y="935">12</text>
<text x="1206" y="908">16</text>
<text x="1323" y="916">8</text>
<text x="1327" y="962">9</text>
<text x="1184" y="950">34</text>
<text x="1185" y="995.5">35</text>
<text x="1184" y="1041">34</text>
<text x="296" y="832">58</text>
<text x="502" y="816">53</text>
<text x="556" y="850">52</text>
<text x="413" y="913">91</text>
<text x="456" y="1073">54</text>
<text x="636" y="912">51</text>
<text x="715" y="958.5">49</text>
<text x="814" y="1025">56</text>
<text x="696" y="1115">57</text>
<text x="856" y="895">72</text>
<text x="531" y="1164">60</text>
<text x="572" y="1216">55</text>
<text x="622" y="1247">59</text>
<text x="712" y="1280">50</text>
<text x="1817" y="1018">80</text>
<text x="1835" y="1064">82</text>
<text x="1818" y="1114">76</text>
<text x="1546" y="1145">81</text>
<text x="1543" y="1201">78</text>
<text x="930" y="1418">11</text>
<text x="929" y="1457">14</text>
<text x="1306" y="1439">82</text>
<text x="1399" y="1541">89</text>
<text x="1530" y="1379">72</text>
<text x="1126" y="1586">77</text>
<text x="1236" y="1739">79</text>
<text x="1293" y="1758">75</text>
<text x="647" y="1484">44</text>
<text x="642" y="1619">45</text>
<text x="642" y="1706">47</text>
<text x="642" y="1756">46</text>
<text x="645" y="1807">48</text>
<text x="618" y="1859">32</text>
<text x="415" y="1862">31</text>
<text x="889" y="1744">30</text>
<text x="869" y="1788">28</text>
<text x="916" y="1828">29</text>
<text x="1258" y="1931">24</text>
<text x="1026" y="2100">25</text>
<text x="813" y="2172">27</text>
<text x="939" y="2177">27</text>
<text x="1140" y="2162">27</text>
<text x="1153" y="2209">8</text>
<text x="1186" y="2283">26</text>
<text x="1348" y="2091">39</text>
<text x="1444" y="2155">38</text>
<text x="1529" y="2202">36</text>
<text x="1577" y="2268">40</text>
<text x="1420" y="2320">37</text>
<text x="1684" y="2242">43</text>
<text x="1656" y="2313">41</text>
<text x="1720" y="2348">42</text>
<text x="1441" y="2359">64</text>
<text x="1488" y="2392">65</text>
<text x="1529" y="2358">67</text>
<text x="1617" y="2449">63</text>
<text x="1617" y="2607">66</text>
<text x="1689" y="2502">65</text>
<text x="618" y="2301">69</text>
<text x="780" y="2388">73</text>
<text x="848" y="2456">70</text>
<text x="903" y="2509">71</text>
<text x="1064" y="2561">62</text>
<text x="1114" y="2659">61</text>
<text x="1333" y="2753">71</text>
<text x="1381" y="2779">70</text>
<text x="1457" y="2821">73</text>
<text x="1622" y="2917">68</text>
<text x="835" y="2968">3</text>
<text x="942" y="3178">22</text>
<text x="1246" y="3152">21</text>
<text x="1123" y="3267">21</text>
<text x="159" y="3266" style="font-size:63px;letter-spacing:-2px">M125</text>
</g></svg>
</body></html>
